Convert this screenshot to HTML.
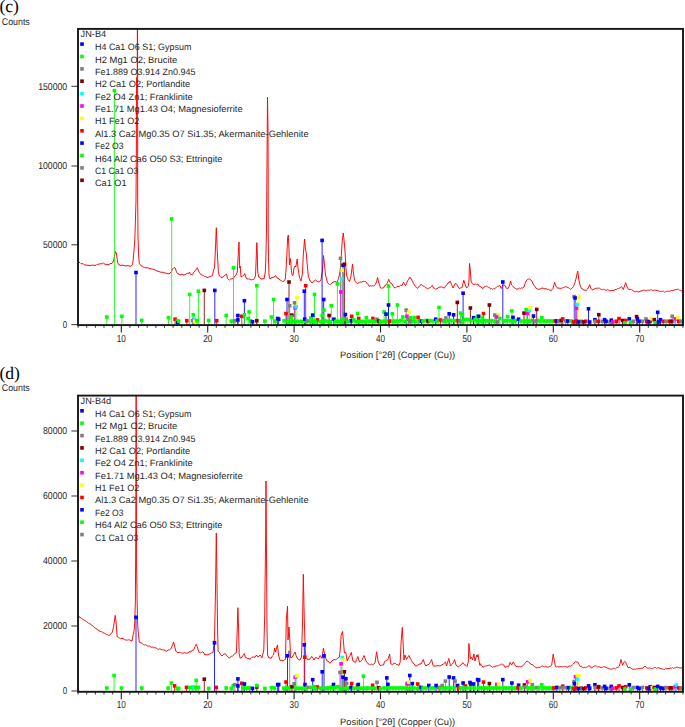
<!DOCTYPE html>
<html><head><meta charset="utf-8"><style>html,body{margin:0;padding:0;background:#fff;overflow:hidden}svg{display:block;text-rendering:geometricPrecision}</style></head>
<body>
<svg width="685" height="727" viewBox="0 0 685 727">
<rect width="685" height="727" fill="#fff"/>
<g transform="translate(0,0.00)">
<text x="-0.6" y="11.8" font-family="Liberation Serif, serif" font-size="17.6" fill="#000">(c)</text>
<text x="1.8" y="24.8" font-family="Liberation Sans, sans-serif" font-size="9.7" fill="#262626" textLength="28" lengthAdjust="spacingAndGlyphs">Counts</text>
<line x1="71.4" y1="86.3" x2="78" y2="86.3" stroke="#444" stroke-width="1.1"/>
<text x="38.2" y="89.7" font-family="Liberation Sans, sans-serif" font-size="10.0" fill="#262626" textLength="29.0" lengthAdjust="spacingAndGlyphs">150000</text>
<line x1="71.4" y1="166.0" x2="78" y2="166.0" stroke="#444" stroke-width="1.1"/>
<text x="38.2" y="169.4" font-family="Liberation Sans, sans-serif" font-size="10.0" fill="#262626" textLength="29.0" lengthAdjust="spacingAndGlyphs">100000</text>
<line x1="71.4" y1="244.8" x2="78" y2="244.8" stroke="#444" stroke-width="1.1"/>
<text x="43.0" y="248.2" font-family="Liberation Sans, sans-serif" font-size="10.0" fill="#262626" textLength="24.2" lengthAdjust="spacingAndGlyphs">50000</text>
<line x1="71.4" y1="324.6" x2="78" y2="324.6" stroke="#444" stroke-width="1.1"/>
<text x="62.8" y="328.0" font-family="Liberation Sans, sans-serif" font-size="10.0" fill="#262626" textLength="4.4" lengthAdjust="spacingAndGlyphs">0</text>
<line x1="78.1" y1="325.5" x2="78.1" y2="327.8" stroke="#333" stroke-width="1"/>
<line x1="86.7" y1="325.5" x2="86.7" y2="327.8" stroke="#333" stroke-width="1"/>
<line x1="95.4" y1="325.5" x2="95.4" y2="327.8" stroke="#333" stroke-width="1"/>
<line x1="104.0" y1="325.5" x2="104.0" y2="327.8" stroke="#333" stroke-width="1"/>
<line x1="112.7" y1="325.5" x2="112.7" y2="327.8" stroke="#333" stroke-width="1"/>
<line x1="121.3" y1="325.5" x2="121.3" y2="332.6" stroke="#222" stroke-width="1.1"/>
<text x="116.8" y="341.6" font-family="Liberation Sans, sans-serif" font-size="10.2" fill="#262626" textLength="9.1" lengthAdjust="spacingAndGlyphs">10</text>
<line x1="129.9" y1="325.5" x2="129.9" y2="327.8" stroke="#333" stroke-width="1"/>
<line x1="138.6" y1="325.5" x2="138.6" y2="327.8" stroke="#333" stroke-width="1"/>
<line x1="147.2" y1="325.5" x2="147.2" y2="327.8" stroke="#333" stroke-width="1"/>
<line x1="155.9" y1="325.5" x2="155.9" y2="327.8" stroke="#333" stroke-width="1"/>
<line x1="164.5" y1="325.5" x2="164.5" y2="327.8" stroke="#333" stroke-width="1"/>
<line x1="173.1" y1="325.5" x2="173.1" y2="327.8" stroke="#333" stroke-width="1"/>
<line x1="181.8" y1="325.5" x2="181.8" y2="327.8" stroke="#333" stroke-width="1"/>
<line x1="190.4" y1="325.5" x2="190.4" y2="327.8" stroke="#333" stroke-width="1"/>
<line x1="199.1" y1="325.5" x2="199.1" y2="327.8" stroke="#333" stroke-width="1"/>
<line x1="207.7" y1="325.5" x2="207.7" y2="332.6" stroke="#222" stroke-width="1.1"/>
<text x="203.2" y="341.6" font-family="Liberation Sans, sans-serif" font-size="10.2" fill="#262626" textLength="9.1" lengthAdjust="spacingAndGlyphs">20</text>
<line x1="216.3" y1="325.5" x2="216.3" y2="327.8" stroke="#333" stroke-width="1"/>
<line x1="225.0" y1="325.5" x2="225.0" y2="327.8" stroke="#333" stroke-width="1"/>
<line x1="233.6" y1="325.5" x2="233.6" y2="327.8" stroke="#333" stroke-width="1"/>
<line x1="242.3" y1="325.5" x2="242.3" y2="327.8" stroke="#333" stroke-width="1"/>
<line x1="250.9" y1="325.5" x2="250.9" y2="327.8" stroke="#333" stroke-width="1"/>
<line x1="259.5" y1="325.5" x2="259.5" y2="327.8" stroke="#333" stroke-width="1"/>
<line x1="268.2" y1="325.5" x2="268.2" y2="327.8" stroke="#333" stroke-width="1"/>
<line x1="276.8" y1="325.5" x2="276.8" y2="327.8" stroke="#333" stroke-width="1"/>
<line x1="285.5" y1="325.5" x2="285.5" y2="327.8" stroke="#333" stroke-width="1"/>
<line x1="294.1" y1="325.5" x2="294.1" y2="332.6" stroke="#222" stroke-width="1.1"/>
<text x="289.6" y="341.6" font-family="Liberation Sans, sans-serif" font-size="10.2" fill="#262626" textLength="9.1" lengthAdjust="spacingAndGlyphs">30</text>
<line x1="302.7" y1="325.5" x2="302.7" y2="327.8" stroke="#333" stroke-width="1"/>
<line x1="311.4" y1="325.5" x2="311.4" y2="327.8" stroke="#333" stroke-width="1"/>
<line x1="320.0" y1="325.5" x2="320.0" y2="327.8" stroke="#333" stroke-width="1"/>
<line x1="328.7" y1="325.5" x2="328.7" y2="327.8" stroke="#333" stroke-width="1"/>
<line x1="337.3" y1="325.5" x2="337.3" y2="327.8" stroke="#333" stroke-width="1"/>
<line x1="345.9" y1="325.5" x2="345.9" y2="327.8" stroke="#333" stroke-width="1"/>
<line x1="354.6" y1="325.5" x2="354.6" y2="327.8" stroke="#333" stroke-width="1"/>
<line x1="363.2" y1="325.5" x2="363.2" y2="327.8" stroke="#333" stroke-width="1"/>
<line x1="371.9" y1="325.5" x2="371.9" y2="327.8" stroke="#333" stroke-width="1"/>
<line x1="380.5" y1="325.5" x2="380.5" y2="332.6" stroke="#222" stroke-width="1.1"/>
<text x="376.0" y="341.6" font-family="Liberation Sans, sans-serif" font-size="10.2" fill="#262626" textLength="9.1" lengthAdjust="spacingAndGlyphs">40</text>
<line x1="389.1" y1="325.5" x2="389.1" y2="327.8" stroke="#333" stroke-width="1"/>
<line x1="397.8" y1="325.5" x2="397.8" y2="327.8" stroke="#333" stroke-width="1"/>
<line x1="406.4" y1="325.5" x2="406.4" y2="327.8" stroke="#333" stroke-width="1"/>
<line x1="415.1" y1="325.5" x2="415.1" y2="327.8" stroke="#333" stroke-width="1"/>
<line x1="423.7" y1="325.5" x2="423.7" y2="327.8" stroke="#333" stroke-width="1"/>
<line x1="432.3" y1="325.5" x2="432.3" y2="327.8" stroke="#333" stroke-width="1"/>
<line x1="441.0" y1="325.5" x2="441.0" y2="327.8" stroke="#333" stroke-width="1"/>
<line x1="449.6" y1="325.5" x2="449.6" y2="327.8" stroke="#333" stroke-width="1"/>
<line x1="458.3" y1="325.5" x2="458.3" y2="327.8" stroke="#333" stroke-width="1"/>
<line x1="466.9" y1="325.5" x2="466.9" y2="332.6" stroke="#222" stroke-width="1.1"/>
<text x="462.4" y="341.6" font-family="Liberation Sans, sans-serif" font-size="10.2" fill="#262626" textLength="9.1" lengthAdjust="spacingAndGlyphs">50</text>
<line x1="475.5" y1="325.5" x2="475.5" y2="327.8" stroke="#333" stroke-width="1"/>
<line x1="484.2" y1="325.5" x2="484.2" y2="327.8" stroke="#333" stroke-width="1"/>
<line x1="492.8" y1="325.5" x2="492.8" y2="327.8" stroke="#333" stroke-width="1"/>
<line x1="501.5" y1="325.5" x2="501.5" y2="327.8" stroke="#333" stroke-width="1"/>
<line x1="510.1" y1="325.5" x2="510.1" y2="327.8" stroke="#333" stroke-width="1"/>
<line x1="518.7" y1="325.5" x2="518.7" y2="327.8" stroke="#333" stroke-width="1"/>
<line x1="527.4" y1="325.5" x2="527.4" y2="327.8" stroke="#333" stroke-width="1"/>
<line x1="536.0" y1="325.5" x2="536.0" y2="327.8" stroke="#333" stroke-width="1"/>
<line x1="544.7" y1="325.5" x2="544.7" y2="327.8" stroke="#333" stroke-width="1"/>
<line x1="553.3" y1="325.5" x2="553.3" y2="332.6" stroke="#222" stroke-width="1.1"/>
<text x="548.8" y="341.6" font-family="Liberation Sans, sans-serif" font-size="10.2" fill="#262626" textLength="9.1" lengthAdjust="spacingAndGlyphs">60</text>
<line x1="561.9" y1="325.5" x2="561.9" y2="327.8" stroke="#333" stroke-width="1"/>
<line x1="570.6" y1="325.5" x2="570.6" y2="327.8" stroke="#333" stroke-width="1"/>
<line x1="579.2" y1="325.5" x2="579.2" y2="327.8" stroke="#333" stroke-width="1"/>
<line x1="587.9" y1="325.5" x2="587.9" y2="327.8" stroke="#333" stroke-width="1"/>
<line x1="596.5" y1="325.5" x2="596.5" y2="327.8" stroke="#333" stroke-width="1"/>
<line x1="605.1" y1="325.5" x2="605.1" y2="327.8" stroke="#333" stroke-width="1"/>
<line x1="613.8" y1="325.5" x2="613.8" y2="327.8" stroke="#333" stroke-width="1"/>
<line x1="622.4" y1="325.5" x2="622.4" y2="327.8" stroke="#333" stroke-width="1"/>
<line x1="631.1" y1="325.5" x2="631.1" y2="327.8" stroke="#333" stroke-width="1"/>
<line x1="639.7" y1="325.5" x2="639.7" y2="332.6" stroke="#222" stroke-width="1.1"/>
<text x="635.2" y="341.6" font-family="Liberation Sans, sans-serif" font-size="10.2" fill="#262626" textLength="9.1" lengthAdjust="spacingAndGlyphs">70</text>
<line x1="648.3" y1="325.5" x2="648.3" y2="327.8" stroke="#333" stroke-width="1"/>
<line x1="657.0" y1="325.5" x2="657.0" y2="327.8" stroke="#333" stroke-width="1"/>
<line x1="665.6" y1="325.5" x2="665.6" y2="327.8" stroke="#333" stroke-width="1"/>
<line x1="674.3" y1="325.5" x2="674.3" y2="327.8" stroke="#333" stroke-width="1"/>
<line x1="682.9" y1="325.5" x2="682.9" y2="327.8" stroke="#333" stroke-width="1"/>
<text x="340.1" y="358.3" font-family="Liberation Sans, sans-serif" font-size="9.2" fill="#262626" textLength="115" lengthAdjust="spacingAndGlyphs">Position [°2θ] (Copper (Cu))</text>
<clipPath id="clipc"><rect x="78.5" y="28.8" width="604" height="296"/></clipPath>
<g clip-path="url(#clipc)">
<path d="M78.0 262.3 L79.0 262.4 L80.0 262.6 L81.0 263.6 L82.0 263.8 L83.0 263.6 L84.0 264.6 L85.0 264.8 L86.0 265.3 L87.0 264.9 L88.0 265.6 L89.0 265.1 L90.0 265.8 L91.0 265.6 L92.0 265.1 L93.0 265.0 L94.0 265.5 L95.0 265.2 L96.0 265.4 L97.0 264.3 L98.0 264.5 L99.0 263.8 L100.0 264.1 L101.0 263.6 L102.2 263.9 L103.5 263.0 L105.0 264.3 L106.0 264.5 L107.0 264.3 L108.0 264.5 L109.0 264.9 L110.0 263.4 L111.0 263.7 L112.0 263.3 L113.0 262.0 L114.0 259.0 L115.3 251.5 L116.3 253.0 L117.0 258.0 L117.8 263.0 L119.0 265.0 L120.0 265.0 L121.0 265.6 L122.0 265.2 L123.0 265.2 L124.0 265.5 L125.0 265.8 L126.0 266.2 L127.0 265.4 L128.0 265.9 L129.0 265.8 L130.0 266.2 L131.0 266.3 L132.5 264.5 L133.2 260.0 L134.0 250.0 L134.8 240.0 L135.5 218.0 L136.0 200.0 L136.4 150.0 L136.5 78.0 L137.3 76.0 L137.4 0.0 L137.5 0.0 L137.6 76.0 L137.7 200.0 L138.0 236.0 L138.6 255.0 L139.3 263.5 L141.0 265.8 L142.2 266.2 L143.5 267.0 L144.8 267.6 L146.0 268.0 L147.0 267.6 L148.0 267.8 L149.0 268.5 L150.0 268.3 L151.0 269.1 L152.0 269.0 L153.0 269.2 L154.0 269.4 L155.0 270.0 L156.0 270.6 L157.0 270.9 L158.0 271.5 L159.0 271.4 L160.0 272.2 L161.0 272.0 L162.0 272.5 L163.0 272.1 L164.0 272.6 L165.0 273.0 L166.0 273.2 L167.0 273.5 L168.0 273.9 L169.0 273.7 L170.0 273.3 L171.5 271.5 L172.5 269.0 L174.0 267.5 L175.2 268.0 L176.5 272.0 L178.0 274.0 L179.0 273.9 L180.0 275.0 L181.0 274.5 L182.0 274.2 L183.0 274.7 L184.0 275.0 L185.0 274.8 L186.0 274.0 L187.2 273.3 L188.5 273.5 L189.5 272.0 L190.5 274.5 L191.5 274.5 L192.5 274.5 L193.8 272.2 L195.0 271.0 L196.1 269.6 L197.2 267.7 L199.0 272.0 L200.0 273.6 L201.0 274.5 L202.2 275.1 L203.5 275.5 L204.7 276.7 L205.8 276.6 L207.0 277.5 L208.0 277.4 L209.0 277.0 L210.0 276.5 L211.2 276.2 L212.5 275.7 L213.5 270.0 L214.5 268.0 L215.4 250.0 L216.3 227.7 L217.2 250.0 L218.3 270.5 L219.0 275.0 L220.0 276.2 L221.0 277.5 L222.0 277.4 L223.0 277.1 L224.0 276.0 L225.2 275.0 L226.5 274.0 L227.5 278.5 L228.5 279.5 L229.5 280.0 L230.8 278.9 L232.0 279.0 L233.0 278.3 L234.0 277.0 L235.0 276.2 L236.0 275.0 L237.3 272.0 L238.2 255.0 L239.0 242.0 L239.7 268.0 L240.2 266.0 L241.0 277.0 L242.5 276.0 L243.7 275.4 L244.8 273.5 L246.0 278.0 L247.2 278.9 L248.5 279.0 L249.8 279.2 L251.0 280.0 L252.2 279.6 L253.5 279.5 L254.5 278.0 L255.5 276.0 L256.3 256.0 L256.8 242.6 L257.4 256.0 L257.6 270.0 L258.5 277.0 L259.8 277.4 L261.0 279.0 L262.0 279.0 L263.0 278.6 L264.0 279.0 L265.3 272.0 L265.8 260.0 L266.5 230.0 L266.9 175.0 L267.5 97.0 L268.0 130.0 L268.2 175.0 L268.2 230.0 L268.5 260.0 L269.0 275.0 L270.0 279.0 L271.0 278.0 L272.0 277.4 L273.0 277.5 L274.2 276.8 L275.5 275.5 L277.0 278.0 L278.0 278.2 L279.0 279.0 L280.0 280.0 L281.2 280.4 L282.3 281.5 L283.5 281.5 L285.3 279.0 L286.0 270.0 L287.0 252.0 L287.6 238.0 L288.3 235.0 L289.0 250.0 L289.5 265.0 L290.0 260.0 L290.5 258.5 L291.2 268.0 L292.0 275.0 L293.0 275.5 L294.0 268.0 L295.0 266.0 L295.8 267.0 L297.2 259.0 L298.0 268.0 L299.5 277.5 L301.0 281.0 L302.5 273.0 L303.2 256.0 L304.6 239.0 L305.5 250.0 L306.2 252.0 L307.0 262.0 L308.3 276.0 L310.0 281.0 L311.0 281.5 L312.0 283.0 L313.0 281.9 L314.0 281.0 L315.5 280.0 L316.5 280.8 L317.5 281.5 L319.0 282.0 L320.0 281.2 L321.0 279.5 L322.5 270.0 L323.5 255.5 L324.3 263.0 L325.5 275.0 L327.3 282.0 L328.4 283.7 L329.5 284.5 L330.8 284.2 L332.0 283.0 L333.0 282.2 L334.0 281.9 L335.0 281.5 L336.0 281.8 L337.0 282.5 L338.5 278.5 L340.0 272.0 L341.0 260.0 L342.3 240.0 L343.3 233.0 L344.0 240.0 L345.0 251.0 L345.8 266.0 L346.5 275.0 L348.0 279.5 L349.5 281.5 L351.0 276.0 L352.5 264.0 L353.3 272.0 L354.5 280.0 L355.5 281.7 L356.6 282.9 L357.6 283.5 L358.7 282.7 L359.8 282.3 L360.9 282.0 L362.0 282.0 L363.2 281.4 L364.4 281.5 L365.6 281.3 L366.8 283.1 L368.0 284.4 L369.2 286.4 L370.2 285.6 L371.3 286.0 L372.3 285.8 L373.4 285.9 L374.4 285.7 L375.4 284.4 L376.5 282.0 L377.6 277.5 L378.6 282.0 L380.5 288.0 L381.5 288.2 L382.5 288.0 L383.5 288.0 L384.8 285.5 L386.5 284.7 L387.6 282.2 L388.7 279.3 L390.0 282.6 L391.0 283.4 L392.0 283.8 L393.5 286.8 L395.4 288.1 L396.7 286.7 L398.0 286.4 L399.3 286.4 L400.6 285.3 L402.1 285.5 L403.5 282.2 L404.5 284.2 L405.5 285.5 L406.6 283.5 L407.7 280.6 L408.7 279.2 L409.7 277.0 L411.2 279.0 L412.4 281.2 L413.5 283.7 L414.5 285.1 L415.5 286.8 L416.5 287.1 L417.5 288.5 L418.6 287.2 L419.8 285.5 L421.2 284.3 L423.0 286.0 L424.2 286.3 L425.5 287.7 L426.5 287.8 L427.5 289.0 L428.5 288.2 L429.5 288.2 L430.5 287.0 L432.3 285.3 L433.5 288.1 L434.5 288.3 L435.5 289.3 L436.8 288.5 L438.0 288.1 L439.0 287.1 L440.0 287.2 L441.1 286.8 L442.2 287.2 L443.3 287.4 L444.4 288.1 L445.7 286.2 L447.0 284.6 L448.1 282.8 L449.1 282.8 L450.2 281.1 L451.6 284.7 L453.1 288.0 L454.4 285.1 L455.6 283.1 L456.8 284.6 L458.0 286.5 L459.2 288.5 L460.6 287.9 L462.0 287.7 L463.8 280.2 L465.2 284.9 L466.6 288.1 L468.4 285.8 L469.0 280.0 L469.5 263.5 L470.3 270.1 L471.0 281.0 L472.2 283.6 L474.0 284.6 L475.3 283.9 L476.5 284.7 L477.8 284.0 L478.9 285.9 L480.0 286.5 L481.0 287.1 L482.0 287.8 L483.0 288.5 L484.2 286.9 L485.5 286.3 L486.5 286.1 L487.5 286.8 L488.5 287.4 L489.5 287.6 L490.5 288.9 L491.5 288.5 L492.5 289.5 L493.5 288.3 L494.5 288.9 L495.5 287.8 L496.5 287.2 L497.7 286.2 L498.8 286.1 L500.0 285.5 L501.3 288.5 L502.4 286.0 L503.5 284.7 L505.0 285.5 L506.6 288.5 L508.5 288.1 L509.8 284.0 L510.7 281.1 L511.5 285.0 L513.0 286.4 L514.0 287.3 L515.0 288.1 L516.0 289.2 L517.0 289.0 L518.2 289.0 L519.5 288.1 L520.5 288.4 L521.6 287.8 L522.6 288.1 L524.0 287.0 L525.5 282.2 L527.2 279.5 L528.4 279.1 L529.5 279.0 L531.0 280.0 L532.0 281.4 L533.0 283.6 L534.0 285.4 L535.0 286.5 L536.6 289.0 L537.7 289.0 L538.9 289.4 L540.0 289.0 L541.0 288.5 L542.0 288.0 L543.0 288.1 L544.0 288.6 L545.0 289.0 L546.0 288.5 L547.2 289.4 L548.5 289.3 L549.8 290.2 L551.0 290.3 L552.0 289.8 L553.0 288.5 L554.2 284.0 L554.7 282.4 L555.6 285.5 L557.0 287.7 L558.0 288.3 L559.0 287.9 L560.0 288.5 L561.4 288.2 L562.7 287.9 L563.8 287.5 L564.9 286.9 L565.9 286.7 L567.0 287.1 L568.2 287.6 L569.4 288.3 L570.6 289.4 L572.0 288.2 L573.5 286.5 L575.0 282.4 L576.2 278.0 L577.3 272.5 L577.7 271.0 L578.1 273.0 L578.5 278.0 L580.0 285.0 L581.0 287.6 L582.0 289.0 L583.0 289.3 L584.0 290.2 L585.0 290.0 L586.2 290.3 L587.4 289.3 L588.6 287.0 L589.7 284.6 L590.6 288.0 L592.0 289.7 L593.0 290.0 L594.1 289.0 L595.1 288.6 L596.2 288.3 L597.2 288.1 L598.3 288.2 L599.3 288.1 L600.4 288.9 L601.5 289.5 L602.5 289.6 L603.5 289.4 L604.6 289.7 L605.6 290.0 L606.7 290.3 L607.7 289.4 L608.8 290.3 L609.8 290.7 L610.9 290.6 L611.9 290.6 L613.0 290.4 L614.0 290.5 L615.1 289.5 L616.2 289.8 L617.3 288.6 L618.4 288.7 L619.5 288.3 L620.6 287.0 L621.7 286.6 L623.3 289.5 L624.5 286.0 L625.7 282.7 L626.9 286.4 L628.0 288.9 L629.1 289.6 L630.2 289.3 L631.3 289.6 L632.5 290.0 L633.6 291.4 L634.7 291.7 L635.8 291.7 L636.8 291.1 L637.9 291.9 L638.9 291.9 L640.0 291.4 L641.0 290.8 L642.1 291.0 L643.1 290.3 L644.2 290.0 L645.2 290.5 L646.2 291.0 L647.3 290.4 L648.3 290.1 L649.3 290.5 L650.4 289.7 L651.4 289.7 L652.5 290.4 L653.7 290.6 L654.8 290.0 L655.9 290.3 L657.0 290.6 L658.2 290.7 L659.3 291.3 L660.3 291.5 L661.4 291.1 L662.4 291.4 L663.4 291.1 L664.5 292.2 L665.5 291.7 L666.5 291.3 L667.6 291.2 L668.6 291.2 L669.7 291.4 L670.8 290.6 L671.8 290.5 L672.9 290.8 L674.0 290.0 L675.0 289.8 L676.1 289.6 L677.2 289.3 L678.4 289.2 L679.6 290.2 L680.8 290.4 L682.0 291.3" fill="none" stroke="#ff0000" stroke-width="0.95" stroke-linejoin="round"/>
<g stroke-width="0.85"><line x1="106.8" y1="317.0" x2="106.8" y2="325.0" stroke="#00ff00"/>
<line x1="114.4" y1="90.7" x2="114.4" y2="325.0" stroke="#00ff00"/>
<line x1="121.9" y1="316.3" x2="121.9" y2="325.0" stroke="#00ff00"/>
<line x1="136.0" y1="272.5" x2="136.0" y2="325.0" stroke="#0000ff"/>
<line x1="141.8" y1="320.4" x2="141.8" y2="325.0" stroke="#00ff00"/>
<line x1="168.5" y1="317.7" x2="168.5" y2="325.0" stroke="#00ff00"/>
<line x1="171.7" y1="218.9" x2="171.7" y2="325.0" stroke="#00ff00"/>
<line x1="175.1" y1="319.2" x2="175.1" y2="325.0" stroke="#ff0000"/>
<line x1="177.3" y1="321.1" x2="177.3" y2="325.0" stroke="#00ff00"/>
<line x1="178.7" y1="321.1" x2="178.7" y2="325.0" stroke="#00ff00"/>
<line x1="186.8" y1="320.7" x2="186.8" y2="325.0" stroke="#ff0000"/>
<line x1="189.7" y1="294.4" x2="189.7" y2="325.0" stroke="#00ff00"/>
<line x1="193.3" y1="314.8" x2="193.3" y2="325.0" stroke="#00ff00"/>
<line x1="192.6" y1="320.7" x2="192.6" y2="325.0" stroke="#808080"/>
<line x1="193.8" y1="319.5" x2="193.8" y2="325.0" stroke="#ff00ff"/>
<line x1="194.3" y1="319.7" x2="194.3" y2="325.0" stroke="#00ffff"/>
<line x1="194.8" y1="321.4" x2="194.8" y2="325.0" stroke="#ffff00"/>
<line x1="197.0" y1="320.7" x2="197.0" y2="325.0" stroke="#00ff00"/>
<line x1="198.4" y1="291.2" x2="198.4" y2="325.0" stroke="#00ff00"/>
<line x1="204.3" y1="290.4" x2="204.3" y2="325.0" stroke="#800000"/>
<line x1="208.7" y1="320.4" x2="208.7" y2="325.0" stroke="#00ff00"/>
<line x1="214.8" y1="290.4" x2="214.8" y2="325.0" stroke="#0000ff"/>
<line x1="216.7" y1="320.7" x2="216.7" y2="325.0" stroke="#ff0000"/>
<line x1="226.2" y1="315.5" x2="226.2" y2="325.0" stroke="#00ff00"/>
<line x1="231.3" y1="321.1" x2="231.3" y2="325.0" stroke="#00ff00"/>
<line x1="233.5" y1="267.9" x2="233.5" y2="325.0" stroke="#00ff00"/>
<line x1="234.9" y1="320.7" x2="234.9" y2="325.0" stroke="#808080"/>
<line x1="237.9" y1="315.5" x2="237.9" y2="325.0" stroke="#0000ff"/>
<line x1="237.9" y1="319.9" x2="237.9" y2="325.0" stroke="#0000ff"/>
<line x1="241.8" y1="316.3" x2="241.8" y2="325.0" stroke="#ff0000"/>
<line x1="244.4" y1="300.7" x2="244.4" y2="325.0" stroke="#0000ff"/>
<line x1="244.4" y1="314.8" x2="244.4" y2="325.0" stroke="#00ff00"/>
<line x1="249.1" y1="311.9" x2="249.1" y2="325.0" stroke="#00ff00"/>
<line x1="248.1" y1="318.5" x2="248.1" y2="325.0" stroke="#00ff00"/>
<line x1="250.6" y1="320.7" x2="250.6" y2="325.0" stroke="#00ff00"/>
<line x1="252.5" y1="321.8" x2="252.5" y2="325.0" stroke="#0000ff"/>
<line x1="256.8" y1="285.7" x2="256.8" y2="325.0" stroke="#00ff00"/>
<line x1="256.8" y1="320.7" x2="256.8" y2="325.0" stroke="#800000"/>
<line x1="264.9" y1="321.1" x2="264.9" y2="325.0" stroke="#00ff00"/>
<line x1="271.4" y1="317.0" x2="271.4" y2="325.0" stroke="#00ff00"/>
<line x1="273.6" y1="299.5" x2="273.6" y2="325.0" stroke="#00ff00"/>
<line x1="275.1" y1="321.1" x2="275.1" y2="325.0" stroke="#00ff00"/>
<line x1="277.7" y1="318.5" x2="277.7" y2="325.0" stroke="#0000ff"/>
<line x1="278.7" y1="319.2" x2="278.7" y2="325.0" stroke="#0000ff"/>
<line x1="284.1" y1="320.7" x2="284.1" y2="325.0" stroke="#00ff00"/>
<line x1="286.0" y1="313.6" x2="286.0" y2="325.0" stroke="#ff0000"/>
<line x1="287.0" y1="299.5" x2="287.0" y2="325.0" stroke="#0000ff"/>
<line x1="289.0" y1="282.0" x2="289.0" y2="325.0" stroke="#800000"/>
<line x1="289.7" y1="305.8" x2="289.7" y2="325.0" stroke="#808080"/>
<line x1="291.9" y1="315.1" x2="291.9" y2="325.0" stroke="#800000"/>
<line x1="291.1" y1="317.0" x2="291.1" y2="325.0" stroke="#00ff00"/>
<line x1="291.1" y1="321.0" x2="291.1" y2="325.0" stroke="#00ff00"/>
<line x1="294.5" y1="302.8" x2="294.5" y2="325.0" stroke="#808080"/>
<line x1="295.1" y1="307.8" x2="295.1" y2="325.0" stroke="#ff00ff"/>
<line x1="296.2" y1="306.8" x2="296.2" y2="325.0" stroke="#00ffff"/>
<line x1="297.0" y1="297.7" x2="297.0" y2="325.0" stroke="#ffff00"/>
<line x1="296.0" y1="321.4" x2="296.0" y2="325.0" stroke="#00ff00"/>
<line x1="299.0" y1="321.4" x2="299.0" y2="325.0" stroke="#00ff00"/>
<line x1="302.0" y1="321.4" x2="302.0" y2="325.0" stroke="#00ff00"/>
<line x1="305.5" y1="321.4" x2="305.5" y2="325.0" stroke="#00ff00"/>
<line x1="304.3" y1="291.2" x2="304.3" y2="325.0" stroke="#0000ff"/>
<line x1="305.7" y1="285.7" x2="305.7" y2="325.0" stroke="#ff0000"/>
<line x1="304.7" y1="319.2" x2="304.7" y2="325.0" stroke="#0000ff"/>
<line x1="307.2" y1="321.0" x2="307.2" y2="325.0" stroke="#808080"/>
<line x1="310.8" y1="318.0" x2="310.8" y2="325.0" stroke="#00ff00"/>
<line x1="312.7" y1="315.1" x2="312.7" y2="325.0" stroke="#0000ff"/>
<line x1="313.0" y1="321.0" x2="313.0" y2="325.0" stroke="#00ff00"/>
<line x1="314.5" y1="294.4" x2="314.5" y2="325.0" stroke="#00ff00"/>
<line x1="317.4" y1="319.9" x2="317.4" y2="325.0" stroke="#ff0000"/>
<line x1="320.3" y1="321.4" x2="320.3" y2="325.0" stroke="#00ff00"/>
<line x1="322.2" y1="315.5" x2="322.2" y2="325.0" stroke="#00ff00"/>
<line x1="322.1" y1="240.4" x2="322.1" y2="325.0" stroke="#0000ff"/>
<line x1="323.7" y1="299.5" x2="323.7" y2="325.0" stroke="#0000ff"/>
<line x1="324.0" y1="310.1" x2="324.0" y2="325.0" stroke="#00ff00"/>
<line x1="324.7" y1="320.7" x2="324.7" y2="325.0" stroke="#00ff00"/>
<line x1="329.1" y1="315.5" x2="329.1" y2="325.0" stroke="#800000"/>
<line x1="331.3" y1="305.8" x2="331.3" y2="325.0" stroke="#00ff00"/>
<line x1="333.9" y1="319.2" x2="333.9" y2="325.0" stroke="#0000ff"/>
<line x1="335.7" y1="321.4" x2="335.7" y2="325.0" stroke="#00ff00"/>
<line x1="337.4" y1="283.9" x2="337.4" y2="325.0" stroke="#00ff00"/>
<line x1="340.5" y1="258.4" x2="340.5" y2="325.0" stroke="#808080"/>
<line x1="340.8" y1="291.9" x2="340.8" y2="325.0" stroke="#ff00ff"/>
<line x1="341.5" y1="278.8" x2="341.5" y2="325.0" stroke="#00ffff"/>
<line x1="342.2" y1="270.3" x2="342.2" y2="325.0" stroke="#ffff00"/>
<line x1="343.0" y1="265.2" x2="343.0" y2="325.0" stroke="#0000ff"/>
<line x1="344.4" y1="264.2" x2="344.4" y2="325.0" stroke="#800000"/>
<line x1="342.2" y1="319.2" x2="342.2" y2="325.0" stroke="#00ff00"/>
<line x1="343.7" y1="319.2" x2="343.7" y2="325.0" stroke="#00ff00"/>
<line x1="345.4" y1="314.5" x2="345.4" y2="325.0" stroke="#0000ff"/>
<line x1="346.3" y1="319.2" x2="346.3" y2="325.0" stroke="#808080"/>
<line x1="351.7" y1="316.3" x2="351.7" y2="325.0" stroke="#ff0000"/>
<line x1="351.0" y1="320.7" x2="351.0" y2="325.0" stroke="#0000ff"/>
<line x1="353.9" y1="319.9" x2="353.9" y2="325.0" stroke="#00ff00"/>
<line x1="357.6" y1="313.4" x2="357.6" y2="325.0" stroke="#00ff00"/>
<line x1="358.7" y1="318.5" x2="358.7" y2="325.0" stroke="#ff0000"/>
<line x1="356.0" y1="321.4" x2="356.0" y2="325.0" stroke="#00ff00"/>
<line x1="359.5" y1="321.4" x2="359.5" y2="325.0" stroke="#00ff00"/>
<line x1="362.5" y1="321.4" x2="362.5" y2="325.0" stroke="#00ff00"/>
<line x1="366.3" y1="317.7" x2="366.3" y2="325.0" stroke="#00ff00"/>
<line x1="369.0" y1="321.2" x2="369.0" y2="325.0" stroke="#00ff00"/>
<line x1="372.9" y1="318.5" x2="372.9" y2="325.0" stroke="#ff0000"/>
<line x1="372.0" y1="321.2" x2="372.0" y2="325.0" stroke="#00ff00"/>
<line x1="375.0" y1="321.2" x2="375.0" y2="325.0" stroke="#00ff00"/>
<line x1="377.0" y1="319.2" x2="377.0" y2="325.0" stroke="#808080"/>
<line x1="378.7" y1="321.1" x2="378.7" y2="325.0" stroke="#800000"/>
<line x1="384.1" y1="311.9" x2="384.1" y2="325.0" stroke="#00ff00"/>
<line x1="386.0" y1="314.1" x2="386.0" y2="325.0" stroke="#0000ff"/>
<line x1="385.3" y1="321.1" x2="385.3" y2="325.0" stroke="#00ff00"/>
<line x1="388.9" y1="321.1" x2="388.9" y2="325.0" stroke="#00ff00"/>
<line x1="389.6" y1="321.1" x2="389.6" y2="325.0" stroke="#ff0000"/>
<line x1="388.5" y1="286.1" x2="388.5" y2="325.0" stroke="#00ff00"/>
<line x1="388.5" y1="305.0" x2="388.5" y2="325.0" stroke="#0000ff"/>
<line x1="392.3" y1="313.8" x2="392.3" y2="325.0" stroke="#00ff00"/>
<line x1="397.4" y1="305.0" x2="397.4" y2="325.0" stroke="#00ff00"/>
<line x1="395.0" y1="321.1" x2="395.0" y2="325.0" stroke="#00ff00"/>
<line x1="398.0" y1="321.1" x2="398.0" y2="325.0" stroke="#00ff00"/>
<line x1="401.0" y1="320.5" x2="401.0" y2="325.0" stroke="#00ff00"/>
<line x1="402.8" y1="317.0" x2="402.8" y2="325.0" stroke="#00ff00"/>
<line x1="406.2" y1="310.1" x2="406.2" y2="325.0" stroke="#808080"/>
<line x1="409.0" y1="311.9" x2="409.0" y2="325.0" stroke="#ffff00"/>
<line x1="406.9" y1="316.3" x2="406.9" y2="325.0" stroke="#ff00ff"/>
<line x1="408.4" y1="319.2" x2="408.4" y2="325.0" stroke="#808080"/>
<line x1="410.8" y1="317.7" x2="410.8" y2="325.0" stroke="#00ff00"/>
<line x1="414.5" y1="317.7" x2="414.5" y2="325.0" stroke="#00ff00"/>
<line x1="412.0" y1="321.0" x2="412.0" y2="325.0" stroke="#00ff00"/>
<line x1="418.1" y1="317.4" x2="418.1" y2="325.0" stroke="#ff0000"/>
<line x1="419.0" y1="321.0" x2="419.0" y2="325.0" stroke="#00ff00"/>
<line x1="421.5" y1="321.0" x2="421.5" y2="325.0" stroke="#0000ff"/>
<line x1="423.0" y1="321.0" x2="423.0" y2="325.0" stroke="#00ff00"/>
<line x1="426.0" y1="320.5" x2="426.0" y2="325.0" stroke="#00ff00"/>
<line x1="428.0" y1="321.0" x2="428.0" y2="325.0" stroke="#800000"/>
<line x1="430.0" y1="320.5" x2="430.0" y2="325.0" stroke="#00ff00"/>
<line x1="433.0" y1="321.0" x2="433.0" y2="325.0" stroke="#00ff00"/>
<line x1="435.7" y1="319.2" x2="435.7" y2="325.0" stroke="#0000ff"/>
<line x1="437.0" y1="321.0" x2="437.0" y2="325.0" stroke="#00ff00"/>
<line x1="439.0" y1="307.5" x2="439.0" y2="325.0" stroke="#00ff00"/>
<line x1="440.5" y1="320.0" x2="440.5" y2="325.0" stroke="#ff0000"/>
<line x1="443.0" y1="320.7" x2="443.0" y2="325.0" stroke="#808080"/>
<line x1="445.9" y1="318.0" x2="445.9" y2="325.0" stroke="#808080"/>
<line x1="448.0" y1="320.7" x2="448.0" y2="325.0" stroke="#00ff00"/>
<line x1="449.2" y1="313.8" x2="449.2" y2="325.0" stroke="#0000ff"/>
<line x1="451.0" y1="320.5" x2="451.0" y2="325.0" stroke="#00ff00"/>
<line x1="453.6" y1="314.8" x2="453.6" y2="325.0" stroke="#0000ff"/>
<line x1="454.5" y1="320.7" x2="454.5" y2="325.0" stroke="#00ff00"/>
<line x1="457.3" y1="302.4" x2="457.3" y2="325.0" stroke="#800000"/>
<line x1="458.0" y1="320.7" x2="458.0" y2="325.0" stroke="#ff0000"/>
<line x1="460.5" y1="313.1" x2="460.5" y2="325.0" stroke="#00ff00"/>
<line x1="462.4" y1="314.8" x2="462.4" y2="325.0" stroke="#00ff00"/>
<line x1="463.1" y1="293.2" x2="463.1" y2="325.0" stroke="#0000ff"/>
<line x1="465.0" y1="319.5" x2="465.0" y2="325.0" stroke="#00ff00"/>
<line x1="468.0" y1="319.5" x2="468.0" y2="325.0" stroke="#00ff00"/>
<line x1="470.4" y1="308.0" x2="470.4" y2="325.0" stroke="#800000"/>
<line x1="471.0" y1="320.5" x2="471.0" y2="325.0" stroke="#00ff00"/>
<line x1="473.6" y1="317.7" x2="473.6" y2="325.0" stroke="#0000ff"/>
<line x1="475.0" y1="319.5" x2="475.0" y2="325.0" stroke="#00ff00"/>
<line x1="477.5" y1="316.5" x2="477.5" y2="325.0" stroke="#00ff00"/>
<line x1="478.7" y1="316.3" x2="478.7" y2="325.0" stroke="#0000ff"/>
<line x1="483.5" y1="313.6" x2="483.5" y2="325.0" stroke="#ff0000"/>
<line x1="482.4" y1="317.7" x2="482.4" y2="325.0" stroke="#00ff00"/>
<line x1="480.0" y1="320.7" x2="480.0" y2="325.0" stroke="#00ff00"/>
<line x1="485.5" y1="320.7" x2="485.5" y2="325.0" stroke="#00ff00"/>
<line x1="488.5" y1="320.7" x2="488.5" y2="325.0" stroke="#00ff00"/>
<line x1="489.4" y1="305.0" x2="489.4" y2="325.0" stroke="#800000"/>
<line x1="491.5" y1="320.7" x2="491.5" y2="325.0" stroke="#00ff00"/>
<line x1="494.8" y1="315.1" x2="494.8" y2="325.0" stroke="#808080"/>
<line x1="498.7" y1="314.5" x2="498.7" y2="325.0" stroke="#ffff00"/>
<line x1="496.7" y1="317.0" x2="496.7" y2="325.0" stroke="#ff00ff"/>
<line x1="499.9" y1="318.5" x2="499.9" y2="325.0" stroke="#00ff00"/>
<line x1="502.8" y1="282.0" x2="502.8" y2="325.0" stroke="#0000ff"/>
<line x1="503.5" y1="320.7" x2="503.5" y2="325.0" stroke="#00ff00"/>
<line x1="506.0" y1="320.7" x2="506.0" y2="325.0" stroke="#00ff00"/>
<line x1="511.9" y1="310.9" x2="511.9" y2="325.0" stroke="#00ff00"/>
<line x1="507.6" y1="316.6" x2="507.6" y2="325.0" stroke="#00ff00"/>
<line x1="513.0" y1="317.4" x2="513.0" y2="325.0" stroke="#0000ff"/>
<line x1="510.0" y1="320.7" x2="510.0" y2="325.0" stroke="#00ff00"/>
<line x1="515.5" y1="320.7" x2="515.5" y2="325.0" stroke="#00ff00"/>
<line x1="518.6" y1="319.2" x2="518.6" y2="325.0" stroke="#0000ff"/>
<line x1="521.0" y1="321.0" x2="521.0" y2="325.0" stroke="#00ff00"/>
<line x1="524.0" y1="313.1" x2="524.0" y2="325.0" stroke="#800000"/>
<line x1="526.2" y1="309.7" x2="526.2" y2="325.0" stroke="#00ff00"/>
<line x1="527.6" y1="313.4" x2="527.6" y2="325.0" stroke="#ff00ff"/>
<line x1="529.4" y1="310.4" x2="529.4" y2="325.0" stroke="#00ffff"/>
<line x1="530.1" y1="307.8" x2="530.1" y2="325.0" stroke="#ffff00"/>
<line x1="533.5" y1="316.0" x2="533.5" y2="325.0" stroke="#0000ff"/>
<line x1="524.5" y1="321.0" x2="524.5" y2="325.0" stroke="#00ff00"/>
<line x1="528.0" y1="321.0" x2="528.0" y2="325.0" stroke="#00ff00"/>
<line x1="532.3" y1="320.4" x2="532.3" y2="325.0" stroke="#808080"/>
<line x1="536.7" y1="309.4" x2="536.7" y2="325.0" stroke="#800000"/>
<line x1="537.0" y1="320.4" x2="537.0" y2="325.0" stroke="#808080"/>
<line x1="540.0" y1="321.0" x2="540.0" y2="325.0" stroke="#00ff00"/>
<line x1="541.8" y1="317.7" x2="541.8" y2="325.0" stroke="#00ff00"/>
<line x1="544.0" y1="321.0" x2="544.0" y2="325.0" stroke="#00ff00"/>
<line x1="547.0" y1="321.0" x2="547.0" y2="325.0" stroke="#00ff00"/>
<line x1="550.0" y1="321.0" x2="550.0" y2="325.0" stroke="#00ff00"/>
<line x1="553.0" y1="321.0" x2="553.0" y2="325.0" stroke="#00ff00"/>
<line x1="555.4" y1="321.0" x2="555.4" y2="325.0" stroke="#ff0000"/>
<line x1="556.8" y1="321.0" x2="556.8" y2="325.0" stroke="#0000ff"/>
<line x1="559.0" y1="321.0" x2="559.0" y2="325.0" stroke="#808080"/>
<line x1="561.2" y1="320.4" x2="561.2" y2="325.0" stroke="#800000"/>
<line x1="562.7" y1="318.9" x2="562.7" y2="325.0" stroke="#ff0000"/>
<line x1="565.6" y1="321.0" x2="565.6" y2="325.0" stroke="#808080"/>
<line x1="567.8" y1="321.0" x2="567.8" y2="325.0" stroke="#0000ff"/>
<line x1="571.4" y1="321.0" x2="571.4" y2="325.0" stroke="#00ff00"/>
<line x1="574.1" y1="296.6" x2="574.1" y2="325.0" stroke="#808080"/>
<line x1="575.1" y1="298.0" x2="575.1" y2="325.0" stroke="#0000ff"/>
<line x1="576.5" y1="308.2" x2="576.5" y2="325.0" stroke="#ff00ff"/>
<line x1="577.3" y1="304.6" x2="577.3" y2="325.0" stroke="#00ffff"/>
<line x1="578.8" y1="297.0" x2="578.8" y2="325.0" stroke="#ffff00"/>
<line x1="576.5" y1="321.0" x2="576.5" y2="325.0" stroke="#ff0000"/>
<line x1="581.1" y1="321.3" x2="581.1" y2="325.0" stroke="#808080"/>
<line x1="585.8" y1="321.3" x2="585.8" y2="325.0" stroke="#ff0000"/>
<line x1="588.5" y1="308.8" x2="588.5" y2="325.0" stroke="#0000ff"/>
<line x1="589.7" y1="322.0" x2="589.7" y2="325.0" stroke="#0000ff"/>
<line x1="594.9" y1="319.7" x2="594.9" y2="325.0" stroke="#0000ff"/>
<line x1="595.2" y1="321.3" x2="595.2" y2="325.0" stroke="#808080"/>
<line x1="598.3" y1="321.3" x2="598.3" y2="325.0" stroke="#ff0000"/>
<line x1="598.8" y1="314.7" x2="598.8" y2="325.0" stroke="#800000"/>
<line x1="602.2" y1="321.3" x2="602.2" y2="325.0" stroke="#808080"/>
<line x1="604.6" y1="319.7" x2="604.6" y2="325.0" stroke="#0000ff"/>
<line x1="606.1" y1="321.3" x2="606.1" y2="325.0" stroke="#0000ff"/>
<line x1="610.0" y1="322.0" x2="610.0" y2="325.0" stroke="#808080"/>
<line x1="611.3" y1="320.2" x2="611.3" y2="325.0" stroke="#0000ff"/>
<line x1="612.7" y1="322.0" x2="612.7" y2="325.0" stroke="#ff00ff"/>
<line x1="616.3" y1="321.3" x2="616.3" y2="325.0" stroke="#ff0000"/>
<line x1="619.0" y1="318.6" x2="619.0" y2="325.0" stroke="#ff0000"/>
<line x1="622.5" y1="320.5" x2="622.5" y2="325.0" stroke="#800000"/>
<line x1="625.7" y1="320.5" x2="625.7" y2="325.0" stroke="#ff0000"/>
<line x1="629.3" y1="318.9" x2="629.3" y2="325.0" stroke="#0000ff"/>
<line x1="630.8" y1="322.0" x2="630.8" y2="325.0" stroke="#00ff00"/>
<line x1="633.5" y1="321.3" x2="633.5" y2="325.0" stroke="#808080"/>
<line x1="636.6" y1="316.6" x2="636.6" y2="325.0" stroke="#800000"/>
<line x1="637.4" y1="318.9" x2="637.4" y2="325.0" stroke="#0000ff"/>
<line x1="639.4" y1="321.3" x2="639.4" y2="325.0" stroke="#0000ff"/>
<line x1="642.5" y1="321.3" x2="642.5" y2="325.0" stroke="#808080"/>
<line x1="646.0" y1="318.9" x2="646.0" y2="325.0" stroke="#808080"/>
<line x1="646.8" y1="321.3" x2="646.8" y2="325.0" stroke="#ff0000"/>
<line x1="650.2" y1="321.3" x2="650.2" y2="325.0" stroke="#ff0000"/>
<line x1="651.1" y1="318.9" x2="651.1" y2="325.0" stroke="#ffff00"/>
<line x1="654.3" y1="319.7" x2="654.3" y2="325.0" stroke="#800000"/>
<line x1="657.7" y1="312.3" x2="657.7" y2="325.0" stroke="#0000ff"/>
<line x1="660.5" y1="319.7" x2="660.5" y2="325.0" stroke="#0000ff"/>
<line x1="663.2" y1="321.3" x2="663.2" y2="325.0" stroke="#ff0000"/>
<line x1="666.0" y1="321.3" x2="666.0" y2="325.0" stroke="#808080"/>
<line x1="669.4" y1="321.3" x2="669.4" y2="325.0" stroke="#ff0000"/>
<line x1="672.2" y1="316.3" x2="672.2" y2="325.0" stroke="#808080"/>
<line x1="672.8" y1="321.3" x2="672.8" y2="325.0" stroke="#808080"/>
<line x1="675.2" y1="318.9" x2="675.2" y2="325.0" stroke="#ff00ff"/>
<line x1="677.7" y1="317.8" x2="677.7" y2="325.0" stroke="#ffff00"/>
<line x1="678.8" y1="321.3" x2="678.8" y2="325.0" stroke="#ff0000"/>
<line x1="683.5" y1="321.3" x2="683.5" y2="325.0" stroke="#0000ff"/>
<line x1="288.0" y1="321.3" x2="288.0" y2="325.0" stroke="#00ff00"/>
<line x1="293.0" y1="321.3" x2="293.0" y2="325.0" stroke="#00ff00"/>
<line x1="310.5" y1="321.9" x2="310.5" y2="325.0" stroke="#00ff00"/>
<line x1="315.5" y1="321.9" x2="315.5" y2="325.0" stroke="#00ff00"/>
<line x1="323.0" y1="321.3" x2="323.0" y2="325.0" stroke="#00ff00"/>
<line x1="328.0" y1="321.3" x2="328.0" y2="325.0" stroke="#00ff00"/>
<line x1="330.5" y1="321.9" x2="330.5" y2="325.0" stroke="#00ff00"/>
<line x1="338.0" y1="321.3" x2="338.0" y2="325.0" stroke="#00ff00"/>
<line x1="340.5" y1="321.9" x2="340.5" y2="325.0" stroke="#00ff00"/>
<line x1="348.0" y1="321.3" x2="348.0" y2="325.0" stroke="#00ff00"/>
<line x1="365.5" y1="321.9" x2="365.5" y2="325.0" stroke="#00ff00"/>
<line x1="380.5" y1="321.9" x2="380.5" y2="325.0" stroke="#00ff00"/>
<line x1="383.0" y1="321.3" x2="383.0" y2="325.0" stroke="#00ff00"/>
<line x1="393.0" y1="321.3" x2="393.0" y2="325.0" stroke="#00ff00"/>
<line x1="405.0" y1="321.3" x2="405.0" y2="325.0" stroke="#00ff00"/>
<line x1="410.0" y1="321.3" x2="410.0" y2="325.0" stroke="#808080"/>
<line x1="415.0" y1="321.3" x2="415.0" y2="325.0" stroke="#00ff00"/>
<line x1="445.0" y1="321.3" x2="445.0" y2="325.0" stroke="#00ff00"/>
<line x1="460.0" y1="321.3" x2="460.0" y2="325.0" stroke="#808080"/>
<line x1="462.5" y1="321.9" x2="462.5" y2="325.0" stroke="#00ff00"/>
<line x1="477.5" y1="321.9" x2="477.5" y2="325.0" stroke="#00ff00"/>
<line x1="482.5" y1="321.9" x2="482.5" y2="325.0" stroke="#00ff00"/>
<line x1="495.0" y1="321.3" x2="495.0" y2="325.0" stroke="#00ff00"/>
<line x1="497.5" y1="321.9" x2="497.5" y2="325.0" stroke="#808080"/>
<line x1="512.5" y1="321.9" x2="512.5" y2="325.0" stroke="#00ff00"/>
<line x1="530.0" y1="321.3" x2="530.0" y2="325.0" stroke="#00ff00"/>
<line x1="535.0" y1="321.3" x2="535.0" y2="325.0" stroke="#808080"/>
<line x1="573.5" y1="321.9" x2="573.5" y2="325.0" stroke="#ff0000"/>
<line x1="578.5" y1="321.9" x2="578.5" y2="325.0" stroke="#0000ff"/>
<line x1="583.5" y1="321.9" x2="583.5" y2="325.0" stroke="#800000"/>
<line x1="648.5" y1="321.9" x2="648.5" y2="325.0" stroke="#0000ff"/>
<line x1="658.5" y1="321.9" x2="658.5" y2="325.0" stroke="#0000ff"/>
<line x1="671.0" y1="321.3" x2="671.0" y2="325.0" stroke="#800000"/>
<line x1="681.0" y1="321.3" x2="681.0" y2="325.0" stroke="#808080"/>
<rect x="105.0" y="315.2" width="3.6" height="3.6" fill="#00ff00"/>
<rect x="112.6" y="88.9" width="3.6" height="3.6" fill="#00ff00"/>
<rect x="120.1" y="314.5" width="3.6" height="3.6" fill="#00ff00"/>
<rect x="134.2" y="270.7" width="3.6" height="3.6" fill="#0000ff"/>
<rect x="140.0" y="318.6" width="3.6" height="3.6" fill="#00ff00"/>
<rect x="166.7" y="315.9" width="3.6" height="3.6" fill="#00ff00"/>
<rect x="169.9" y="217.1" width="3.6" height="3.6" fill="#00ff00"/>
<rect x="173.3" y="317.4" width="3.6" height="3.6" fill="#ff0000"/>
<rect x="175.5" y="319.3" width="3.6" height="3.6" fill="#00ff00"/>
<rect x="175.9" y="321.0" width="3.6" height="3.6" fill="#0000ff"/>
<rect x="176.9" y="319.3" width="3.6" height="3.6" fill="#00ff00"/>
<rect x="185.0" y="318.9" width="3.6" height="3.6" fill="#ff0000"/>
<rect x="187.9" y="292.6" width="3.6" height="3.6" fill="#00ff00"/>
<rect x="191.5" y="313.0" width="3.6" height="3.6" fill="#00ff00"/>
<rect x="190.8" y="318.9" width="3.6" height="3.6" fill="#808080"/>
<rect x="192.0" y="317.7" width="3.6" height="3.6" fill="#ff00ff"/>
<rect x="192.5" y="317.9" width="3.6" height="3.6" fill="#00ffff"/>
<rect x="193.0" y="319.6" width="3.6" height="3.6" fill="#ffff00"/>
<rect x="195.2" y="318.9" width="3.6" height="3.6" fill="#00ff00"/>
<rect x="196.6" y="289.4" width="3.6" height="3.6" fill="#00ff00"/>
<rect x="202.5" y="288.6" width="3.6" height="3.6" fill="#800000"/>
<rect x="206.9" y="318.6" width="3.6" height="3.6" fill="#00ff00"/>
<rect x="213.0" y="288.6" width="3.6" height="3.6" fill="#0000ff"/>
<rect x="214.9" y="318.9" width="3.6" height="3.6" fill="#ff0000"/>
<rect x="224.4" y="313.7" width="3.6" height="3.6" fill="#00ff00"/>
<rect x="229.5" y="319.3" width="3.6" height="3.6" fill="#00ff00"/>
<rect x="231.7" y="266.1" width="3.6" height="3.6" fill="#00ff00"/>
<rect x="233.1" y="318.9" width="3.6" height="3.6" fill="#808080"/>
<rect x="236.1" y="313.7" width="3.6" height="3.6" fill="#0000ff"/>
<rect x="236.1" y="318.1" width="3.6" height="3.6" fill="#0000ff"/>
<rect x="240.0" y="314.5" width="3.6" height="3.6" fill="#ff0000"/>
<rect x="242.6" y="298.9" width="3.6" height="3.6" fill="#0000ff"/>
<rect x="242.6" y="313.0" width="3.6" height="3.6" fill="#00ff00"/>
<rect x="247.3" y="310.1" width="3.6" height="3.6" fill="#00ff00"/>
<rect x="246.3" y="316.7" width="3.6" height="3.6" fill="#00ff00"/>
<rect x="248.8" y="318.9" width="3.6" height="3.6" fill="#00ff00"/>
<rect x="250.7" y="320.0" width="3.6" height="3.6" fill="#0000ff"/>
<rect x="255.0" y="283.9" width="3.6" height="3.6" fill="#00ff00"/>
<rect x="255.0" y="318.9" width="3.6" height="3.6" fill="#800000"/>
<rect x="263.1" y="319.3" width="3.6" height="3.6" fill="#00ff00"/>
<rect x="269.6" y="315.2" width="3.6" height="3.6" fill="#00ff00"/>
<rect x="271.8" y="297.7" width="3.6" height="3.6" fill="#00ff00"/>
<rect x="273.3" y="319.3" width="3.6" height="3.6" fill="#00ff00"/>
<rect x="275.9" y="316.7" width="3.6" height="3.6" fill="#0000ff"/>
<rect x="276.9" y="317.4" width="3.6" height="3.6" fill="#0000ff"/>
<rect x="282.3" y="318.9" width="3.6" height="3.6" fill="#00ff00"/>
<rect x="284.2" y="311.8" width="3.6" height="3.6" fill="#ff0000"/>
<rect x="285.2" y="297.7" width="3.6" height="3.6" fill="#0000ff"/>
<rect x="287.2" y="280.2" width="3.6" height="3.6" fill="#800000"/>
<rect x="287.9" y="304.0" width="3.6" height="3.6" fill="#808080"/>
<rect x="290.1" y="313.3" width="3.6" height="3.6" fill="#800000"/>
<rect x="289.3" y="315.2" width="3.6" height="3.6" fill="#00ff00"/>
<rect x="289.3" y="319.2" width="3.6" height="3.6" fill="#00ff00"/>
<rect x="292.7" y="301.0" width="3.6" height="3.6" fill="#808080"/>
<rect x="293.3" y="306.0" width="3.6" height="3.6" fill="#ff00ff"/>
<rect x="294.4" y="305.0" width="3.6" height="3.6" fill="#00ffff"/>
<rect x="295.2" y="295.9" width="3.6" height="3.6" fill="#ffff00"/>
<rect x="294.2" y="319.6" width="3.6" height="3.6" fill="#00ff00"/>
<rect x="297.2" y="319.6" width="3.6" height="3.6" fill="#00ff00"/>
<rect x="300.2" y="319.6" width="3.6" height="3.6" fill="#00ff00"/>
<rect x="303.7" y="319.6" width="3.6" height="3.6" fill="#00ff00"/>
<rect x="302.5" y="289.4" width="3.6" height="3.6" fill="#0000ff"/>
<rect x="303.9" y="283.9" width="3.6" height="3.6" fill="#ff0000"/>
<rect x="302.9" y="317.4" width="3.6" height="3.6" fill="#0000ff"/>
<rect x="305.4" y="319.2" width="3.6" height="3.6" fill="#808080"/>
<rect x="309.0" y="316.2" width="3.6" height="3.6" fill="#00ff00"/>
<rect x="310.9" y="313.3" width="3.6" height="3.6" fill="#0000ff"/>
<rect x="311.2" y="319.2" width="3.6" height="3.6" fill="#00ff00"/>
<rect x="312.7" y="292.6" width="3.6" height="3.6" fill="#00ff00"/>
<rect x="315.6" y="318.1" width="3.6" height="3.6" fill="#ff0000"/>
<rect x="318.5" y="319.6" width="3.6" height="3.6" fill="#00ff00"/>
<rect x="320.4" y="313.7" width="3.6" height="3.6" fill="#00ff00"/>
<rect x="320.3" y="238.6" width="3.6" height="3.6" fill="#0000ff"/>
<rect x="321.9" y="297.7" width="3.6" height="3.6" fill="#0000ff"/>
<rect x="322.2" y="308.3" width="3.6" height="3.6" fill="#00ff00"/>
<rect x="322.9" y="318.9" width="3.6" height="3.6" fill="#00ff00"/>
<rect x="327.3" y="313.7" width="3.6" height="3.6" fill="#800000"/>
<rect x="329.5" y="304.0" width="3.6" height="3.6" fill="#00ff00"/>
<rect x="332.1" y="317.4" width="3.6" height="3.6" fill="#0000ff"/>
<rect x="333.9" y="319.6" width="3.6" height="3.6" fill="#00ff00"/>
<rect x="335.6" y="282.1" width="3.6" height="3.6" fill="#00ff00"/>
<rect x="338.7" y="256.6" width="3.6" height="3.6" fill="#808080"/>
<rect x="339.0" y="290.1" width="3.6" height="3.6" fill="#ff00ff"/>
<rect x="339.7" y="277.0" width="3.6" height="3.6" fill="#00ffff"/>
<rect x="340.4" y="268.5" width="3.6" height="3.6" fill="#ffff00"/>
<rect x="341.2" y="263.4" width="3.6" height="3.6" fill="#0000ff"/>
<rect x="342.6" y="262.4" width="3.6" height="3.6" fill="#800000"/>
<rect x="340.4" y="317.4" width="3.6" height="3.6" fill="#00ff00"/>
<rect x="341.9" y="317.4" width="3.6" height="3.6" fill="#00ff00"/>
<rect x="343.6" y="312.7" width="3.6" height="3.6" fill="#0000ff"/>
<rect x="344.5" y="317.4" width="3.6" height="3.6" fill="#808080"/>
<rect x="349.9" y="314.5" width="3.6" height="3.6" fill="#ff0000"/>
<rect x="349.2" y="318.9" width="3.6" height="3.6" fill="#0000ff"/>
<rect x="352.1" y="318.1" width="3.6" height="3.6" fill="#00ff00"/>
<rect x="355.8" y="311.6" width="3.6" height="3.6" fill="#00ff00"/>
<rect x="356.9" y="316.7" width="3.6" height="3.6" fill="#ff0000"/>
<rect x="354.2" y="319.6" width="3.6" height="3.6" fill="#00ff00"/>
<rect x="357.7" y="319.6" width="3.6" height="3.6" fill="#00ff00"/>
<rect x="360.7" y="319.6" width="3.6" height="3.6" fill="#00ff00"/>
<rect x="364.5" y="315.9" width="3.6" height="3.6" fill="#00ff00"/>
<rect x="367.2" y="319.4" width="3.6" height="3.6" fill="#00ff00"/>
<rect x="371.1" y="316.7" width="3.6" height="3.6" fill="#ff0000"/>
<rect x="370.2" y="319.4" width="3.6" height="3.6" fill="#00ff00"/>
<rect x="373.2" y="319.4" width="3.6" height="3.6" fill="#00ff00"/>
<rect x="375.2" y="317.4" width="3.6" height="3.6" fill="#808080"/>
<rect x="376.9" y="319.3" width="3.6" height="3.6" fill="#800000"/>
<rect x="382.3" y="310.1" width="3.6" height="3.6" fill="#00ff00"/>
<rect x="384.2" y="312.3" width="3.6" height="3.6" fill="#0000ff"/>
<rect x="383.5" y="319.3" width="3.6" height="3.6" fill="#00ff00"/>
<rect x="387.1" y="319.3" width="3.6" height="3.6" fill="#00ff00"/>
<rect x="387.8" y="319.3" width="3.6" height="3.6" fill="#ff0000"/>
<rect x="386.7" y="284.3" width="3.6" height="3.6" fill="#00ff00"/>
<rect x="386.7" y="303.2" width="3.6" height="3.6" fill="#0000ff"/>
<rect x="390.5" y="312.0" width="3.6" height="3.6" fill="#00ff00"/>
<rect x="395.6" y="303.2" width="3.6" height="3.6" fill="#00ff00"/>
<rect x="393.2" y="319.3" width="3.6" height="3.6" fill="#00ff00"/>
<rect x="396.2" y="319.3" width="3.6" height="3.6" fill="#00ff00"/>
<rect x="399.2" y="318.7" width="3.6" height="3.6" fill="#00ff00"/>
<rect x="401.0" y="315.2" width="3.6" height="3.6" fill="#00ff00"/>
<rect x="404.4" y="308.3" width="3.6" height="3.6" fill="#808080"/>
<rect x="407.2" y="310.1" width="3.6" height="3.6" fill="#ffff00"/>
<rect x="405.1" y="314.5" width="3.6" height="3.6" fill="#ff00ff"/>
<rect x="406.6" y="317.4" width="3.6" height="3.6" fill="#808080"/>
<rect x="409.0" y="315.9" width="3.6" height="3.6" fill="#00ff00"/>
<rect x="412.7" y="315.9" width="3.6" height="3.6" fill="#00ff00"/>
<rect x="410.2" y="319.2" width="3.6" height="3.6" fill="#00ff00"/>
<rect x="416.3" y="315.6" width="3.6" height="3.6" fill="#ff0000"/>
<rect x="417.2" y="319.2" width="3.6" height="3.6" fill="#00ff00"/>
<rect x="419.7" y="319.2" width="3.6" height="3.6" fill="#0000ff"/>
<rect x="421.2" y="319.2" width="3.6" height="3.6" fill="#00ff00"/>
<rect x="424.2" y="318.7" width="3.6" height="3.6" fill="#00ff00"/>
<rect x="426.2" y="319.2" width="3.6" height="3.6" fill="#800000"/>
<rect x="428.2" y="318.7" width="3.6" height="3.6" fill="#00ff00"/>
<rect x="431.2" y="319.2" width="3.6" height="3.6" fill="#00ff00"/>
<rect x="433.9" y="317.4" width="3.6" height="3.6" fill="#0000ff"/>
<rect x="435.2" y="319.2" width="3.6" height="3.6" fill="#00ff00"/>
<rect x="437.2" y="305.7" width="3.6" height="3.6" fill="#00ff00"/>
<rect x="438.7" y="318.2" width="3.6" height="3.6" fill="#ff0000"/>
<rect x="441.2" y="318.9" width="3.6" height="3.6" fill="#808080"/>
<rect x="444.1" y="316.2" width="3.6" height="3.6" fill="#808080"/>
<rect x="446.2" y="318.9" width="3.6" height="3.6" fill="#00ff00"/>
<rect x="447.4" y="312.0" width="3.6" height="3.6" fill="#0000ff"/>
<rect x="449.2" y="318.7" width="3.6" height="3.6" fill="#00ff00"/>
<rect x="451.8" y="313.0" width="3.6" height="3.6" fill="#0000ff"/>
<rect x="452.7" y="318.9" width="3.6" height="3.6" fill="#00ff00"/>
<rect x="455.5" y="300.6" width="3.6" height="3.6" fill="#800000"/>
<rect x="456.2" y="318.9" width="3.6" height="3.6" fill="#ff0000"/>
<rect x="458.7" y="311.3" width="3.6" height="3.6" fill="#00ff00"/>
<rect x="460.6" y="313.0" width="3.6" height="3.6" fill="#00ff00"/>
<rect x="461.3" y="291.4" width="3.6" height="3.6" fill="#0000ff"/>
<rect x="463.2" y="317.7" width="3.6" height="3.6" fill="#00ff00"/>
<rect x="466.2" y="317.7" width="3.6" height="3.6" fill="#00ff00"/>
<rect x="468.6" y="306.2" width="3.6" height="3.6" fill="#800000"/>
<rect x="469.2" y="318.7" width="3.6" height="3.6" fill="#00ff00"/>
<rect x="471.8" y="315.9" width="3.6" height="3.6" fill="#0000ff"/>
<rect x="473.2" y="317.7" width="3.6" height="3.6" fill="#00ff00"/>
<rect x="475.7" y="314.7" width="3.6" height="3.6" fill="#00ff00"/>
<rect x="476.9" y="314.5" width="3.6" height="3.6" fill="#0000ff"/>
<rect x="481.7" y="311.8" width="3.6" height="3.6" fill="#ff0000"/>
<rect x="480.6" y="315.9" width="3.6" height="3.6" fill="#00ff00"/>
<rect x="478.2" y="318.9" width="3.6" height="3.6" fill="#00ff00"/>
<rect x="483.7" y="318.9" width="3.6" height="3.6" fill="#00ff00"/>
<rect x="486.7" y="318.9" width="3.6" height="3.6" fill="#00ff00"/>
<rect x="487.6" y="303.2" width="3.6" height="3.6" fill="#800000"/>
<rect x="489.7" y="318.9" width="3.6" height="3.6" fill="#00ff00"/>
<rect x="493.0" y="313.3" width="3.6" height="3.6" fill="#808080"/>
<rect x="496.9" y="312.7" width="3.6" height="3.6" fill="#ffff00"/>
<rect x="494.9" y="315.2" width="3.6" height="3.6" fill="#ff00ff"/>
<rect x="498.1" y="316.7" width="3.6" height="3.6" fill="#00ff00"/>
<rect x="501.0" y="280.2" width="3.6" height="3.6" fill="#0000ff"/>
<rect x="501.7" y="318.9" width="3.6" height="3.6" fill="#00ff00"/>
<rect x="504.2" y="318.9" width="3.6" height="3.6" fill="#00ff00"/>
<rect x="510.1" y="309.1" width="3.6" height="3.6" fill="#00ff00"/>
<rect x="505.8" y="314.8" width="3.6" height="3.6" fill="#00ff00"/>
<rect x="511.2" y="315.6" width="3.6" height="3.6" fill="#0000ff"/>
<rect x="508.2" y="318.9" width="3.6" height="3.6" fill="#00ff00"/>
<rect x="513.7" y="318.9" width="3.6" height="3.6" fill="#00ff00"/>
<rect x="516.8" y="317.4" width="3.6" height="3.6" fill="#0000ff"/>
<rect x="519.2" y="319.2" width="3.6" height="3.6" fill="#00ff00"/>
<rect x="522.2" y="311.3" width="3.6" height="3.6" fill="#800000"/>
<rect x="524.4" y="307.9" width="3.6" height="3.6" fill="#00ff00"/>
<rect x="525.8" y="311.6" width="3.6" height="3.6" fill="#ff00ff"/>
<rect x="527.6" y="308.6" width="3.6" height="3.6" fill="#00ffff"/>
<rect x="528.3" y="306.0" width="3.6" height="3.6" fill="#ffff00"/>
<rect x="531.7" y="314.2" width="3.6" height="3.6" fill="#0000ff"/>
<rect x="522.7" y="319.2" width="3.6" height="3.6" fill="#00ff00"/>
<rect x="526.2" y="319.2" width="3.6" height="3.6" fill="#00ff00"/>
<rect x="530.5" y="318.6" width="3.6" height="3.6" fill="#808080"/>
<rect x="534.9" y="307.6" width="3.6" height="3.6" fill="#800000"/>
<rect x="535.2" y="318.6" width="3.6" height="3.6" fill="#808080"/>
<rect x="538.2" y="319.2" width="3.6" height="3.6" fill="#00ff00"/>
<rect x="540.0" y="315.9" width="3.6" height="3.6" fill="#00ff00"/>
<rect x="542.2" y="319.2" width="3.6" height="3.6" fill="#00ff00"/>
<rect x="545.2" y="319.2" width="3.6" height="3.6" fill="#00ff00"/>
<rect x="548.2" y="319.2" width="3.6" height="3.6" fill="#00ff00"/>
<rect x="551.2" y="319.2" width="3.6" height="3.6" fill="#00ff00"/>
<rect x="553.6" y="319.2" width="3.6" height="3.6" fill="#ff0000"/>
<rect x="555.0" y="319.2" width="3.6" height="3.6" fill="#0000ff"/>
<rect x="557.2" y="319.2" width="3.6" height="3.6" fill="#808080"/>
<rect x="559.4" y="318.6" width="3.6" height="3.6" fill="#800000"/>
<rect x="560.9" y="317.1" width="3.6" height="3.6" fill="#ff0000"/>
<rect x="563.8" y="319.2" width="3.6" height="3.6" fill="#808080"/>
<rect x="566.0" y="319.2" width="3.6" height="3.6" fill="#0000ff"/>
<rect x="569.6" y="319.2" width="3.6" height="3.6" fill="#00ff00"/>
<rect x="572.3" y="294.8" width="3.6" height="3.6" fill="#808080"/>
<rect x="573.3" y="296.2" width="3.6" height="3.6" fill="#0000ff"/>
<rect x="574.7" y="306.4" width="3.6" height="3.6" fill="#ff00ff"/>
<rect x="575.5" y="302.8" width="3.6" height="3.6" fill="#00ffff"/>
<rect x="577.0" y="295.2" width="3.6" height="3.6" fill="#ffff00"/>
<rect x="574.7" y="319.2" width="3.6" height="3.6" fill="#ff0000"/>
<rect x="579.3" y="319.5" width="3.6" height="3.6" fill="#808080"/>
<rect x="584.0" y="319.5" width="3.6" height="3.6" fill="#ff0000"/>
<rect x="586.7" y="307.0" width="3.6" height="3.6" fill="#0000ff"/>
<rect x="587.9" y="320.2" width="3.6" height="3.6" fill="#0000ff"/>
<rect x="593.1" y="317.9" width="3.6" height="3.6" fill="#0000ff"/>
<rect x="593.4" y="319.5" width="3.6" height="3.6" fill="#808080"/>
<rect x="596.5" y="319.5" width="3.6" height="3.6" fill="#ff0000"/>
<rect x="597.0" y="312.9" width="3.6" height="3.6" fill="#800000"/>
<rect x="600.4" y="319.5" width="3.6" height="3.6" fill="#808080"/>
<rect x="602.8" y="317.9" width="3.6" height="3.6" fill="#0000ff"/>
<rect x="604.3" y="319.5" width="3.6" height="3.6" fill="#0000ff"/>
<rect x="608.2" y="320.2" width="3.6" height="3.6" fill="#808080"/>
<rect x="609.5" y="318.4" width="3.6" height="3.6" fill="#0000ff"/>
<rect x="610.9" y="320.2" width="3.6" height="3.6" fill="#ff00ff"/>
<rect x="614.5" y="319.5" width="3.6" height="3.6" fill="#ff0000"/>
<rect x="617.2" y="316.8" width="3.6" height="3.6" fill="#ff0000"/>
<rect x="620.7" y="318.7" width="3.6" height="3.6" fill="#800000"/>
<rect x="623.9" y="318.7" width="3.6" height="3.6" fill="#ff0000"/>
<rect x="623.1" y="321.0" width="3.6" height="3.6" fill="#00ff00"/>
<rect x="627.5" y="317.1" width="3.6" height="3.6" fill="#0000ff"/>
<rect x="629.0" y="320.2" width="3.6" height="3.6" fill="#00ff00"/>
<rect x="631.7" y="319.5" width="3.6" height="3.6" fill="#808080"/>
<rect x="634.8" y="314.8" width="3.6" height="3.6" fill="#800000"/>
<rect x="635.6" y="317.1" width="3.6" height="3.6" fill="#0000ff"/>
<rect x="637.6" y="319.5" width="3.6" height="3.6" fill="#0000ff"/>
<rect x="640.7" y="319.5" width="3.6" height="3.6" fill="#808080"/>
<rect x="644.2" y="317.1" width="3.6" height="3.6" fill="#808080"/>
<rect x="645.0" y="319.5" width="3.6" height="3.6" fill="#ff0000"/>
<rect x="648.4" y="319.5" width="3.6" height="3.6" fill="#ff0000"/>
<rect x="649.3" y="317.1" width="3.6" height="3.6" fill="#ffff00"/>
<rect x="652.5" y="317.9" width="3.6" height="3.6" fill="#800000"/>
<rect x="653.5" y="321.0" width="3.6" height="3.6" fill="#00ff00"/>
<rect x="655.9" y="310.5" width="3.6" height="3.6" fill="#0000ff"/>
<rect x="658.7" y="317.9" width="3.6" height="3.6" fill="#0000ff"/>
<rect x="661.4" y="319.5" width="3.6" height="3.6" fill="#ff0000"/>
<rect x="664.2" y="319.5" width="3.6" height="3.6" fill="#808080"/>
<rect x="667.6" y="319.5" width="3.6" height="3.6" fill="#ff0000"/>
<rect x="670.4" y="314.5" width="3.6" height="3.6" fill="#808080"/>
<rect x="671.0" y="319.5" width="3.6" height="3.6" fill="#808080"/>
<rect x="673.4" y="317.1" width="3.6" height="3.6" fill="#ff00ff"/>
<rect x="675.9" y="316.0" width="3.6" height="3.6" fill="#ffff00"/>
<rect x="677.0" y="319.5" width="3.6" height="3.6" fill="#ff0000"/>
<rect x="681.7" y="319.5" width="3.6" height="3.6" fill="#0000ff"/>
<rect x="286.2" y="319.5" width="3.6" height="3.6" fill="#00ff00"/>
<rect x="291.2" y="319.5" width="3.6" height="3.6" fill="#00ff00"/>
<rect x="308.7" y="320.1" width="3.6" height="3.6" fill="#00ff00"/>
<rect x="313.7" y="320.1" width="3.6" height="3.6" fill="#00ff00"/>
<rect x="321.2" y="319.5" width="3.6" height="3.6" fill="#00ff00"/>
<rect x="326.2" y="319.5" width="3.6" height="3.6" fill="#00ff00"/>
<rect x="328.7" y="320.1" width="3.6" height="3.6" fill="#00ff00"/>
<rect x="336.2" y="319.5" width="3.6" height="3.6" fill="#00ff00"/>
<rect x="338.7" y="320.1" width="3.6" height="3.6" fill="#00ff00"/>
<rect x="346.2" y="319.5" width="3.6" height="3.6" fill="#00ff00"/>
<rect x="363.7" y="320.1" width="3.6" height="3.6" fill="#00ff00"/>
<rect x="378.7" y="320.1" width="3.6" height="3.6" fill="#00ff00"/>
<rect x="381.2" y="319.5" width="3.6" height="3.6" fill="#00ff00"/>
<rect x="391.2" y="319.5" width="3.6" height="3.6" fill="#00ff00"/>
<rect x="403.2" y="319.5" width="3.6" height="3.6" fill="#00ff00"/>
<rect x="408.2" y="319.5" width="3.6" height="3.6" fill="#808080"/>
<rect x="413.2" y="319.5" width="3.6" height="3.6" fill="#00ff00"/>
<rect x="443.2" y="319.5" width="3.6" height="3.6" fill="#00ff00"/>
<rect x="458.2" y="319.5" width="3.6" height="3.6" fill="#808080"/>
<rect x="460.7" y="320.1" width="3.6" height="3.6" fill="#00ff00"/>
<rect x="475.7" y="320.1" width="3.6" height="3.6" fill="#00ff00"/>
<rect x="480.7" y="320.1" width="3.6" height="3.6" fill="#00ff00"/>
<rect x="493.2" y="319.5" width="3.6" height="3.6" fill="#00ff00"/>
<rect x="495.7" y="320.1" width="3.6" height="3.6" fill="#808080"/>
<rect x="510.7" y="320.1" width="3.6" height="3.6" fill="#00ff00"/>
<rect x="528.2" y="319.5" width="3.6" height="3.6" fill="#00ff00"/>
<rect x="533.2" y="319.5" width="3.6" height="3.6" fill="#808080"/>
<rect x="571.7" y="320.1" width="3.6" height="3.6" fill="#ff0000"/>
<rect x="576.7" y="320.1" width="3.6" height="3.6" fill="#0000ff"/>
<rect x="581.7" y="320.1" width="3.6" height="3.6" fill="#800000"/>
<rect x="646.7" y="320.1" width="3.6" height="3.6" fill="#0000ff"/>
<rect x="656.7" y="320.1" width="3.6" height="3.6" fill="#0000ff"/>
<rect x="669.2" y="319.5" width="3.6" height="3.6" fill="#800000"/>
<rect x="679.2" y="319.5" width="3.6" height="3.6" fill="#808080"/></g>
</g>
<text x="80.6" y="37.1" font-family="Liberation Sans, sans-serif" font-size="9.2" fill="#262626">JN-B4</text>
<rect x="80.2" y="42.3" width="3.6" height="3.6" fill="#0000ff"/>
<text x="95" y="50.1" font-family="Liberation Sans, sans-serif" font-size="9.2" fill="#262626" textLength="96.4" lengthAdjust="spacingAndGlyphs">H4 Ca1 O6 S1; Gypsum</text>
<rect x="80.2" y="54.7" width="3.6" height="3.6" fill="#00ff00"/>
<text x="95" y="62.5" font-family="Liberation Sans, sans-serif" font-size="9.2" fill="#262626" textLength="82.3" lengthAdjust="spacingAndGlyphs">H2 Mg1 O2; Brucite</text>
<rect x="80.2" y="67.1" width="3.6" height="3.6" fill="#808080"/>
<text x="95" y="74.9" font-family="Liberation Sans, sans-serif" font-size="9.2" fill="#262626" textLength="100.4" lengthAdjust="spacingAndGlyphs">Fe1.889 O3.914 Zn0.945</text>
<rect x="80.2" y="79.4" width="3.6" height="3.6" fill="#800000"/>
<text x="95" y="87.2" font-family="Liberation Sans, sans-serif" font-size="9.2" fill="#262626" textLength="95.2" lengthAdjust="spacingAndGlyphs">H2 Ca1 O2; Portlandite</text>
<rect x="80.2" y="91.8" width="3.6" height="3.6" fill="#00ffff"/>
<text x="95" y="99.6" font-family="Liberation Sans, sans-serif" font-size="9.2" fill="#262626" textLength="97.7" lengthAdjust="spacingAndGlyphs">Fe2 O4 Zn1; Franklinite</text>
<rect x="80.2" y="104.2" width="3.6" height="3.6" fill="#ff00ff"/>
<text x="95" y="112.0" font-family="Liberation Sans, sans-serif" font-size="9.2" fill="#262626" textLength="147.6" lengthAdjust="spacingAndGlyphs">Fe1.71 Mg1.43 O4; Magnesioferrite</text>
<rect x="80.2" y="116.6" width="3.6" height="3.6" fill="#ffff00"/>
<text x="95" y="124.4" font-family="Liberation Sans, sans-serif" font-size="9.2" fill="#262626" textLength="44.3" lengthAdjust="spacingAndGlyphs">H1 Fe1 O2</text>
<rect x="80.2" y="129.0" width="3.6" height="3.6" fill="#ff0000"/>
<text x="95" y="136.8" font-family="Liberation Sans, sans-serif" font-size="9.2" fill="#262626" textLength="213.6" lengthAdjust="spacingAndGlyphs">Al1.3 Ca2 Mg0.35 O7 Si1.35; Akermanite-Gehlenite</text>
<rect x="80.2" y="141.3" width="3.6" height="3.6" fill="#0000ff"/>
<text x="95" y="149.1" font-family="Liberation Sans, sans-serif" font-size="9.2" fill="#262626" textLength="28.5" lengthAdjust="spacingAndGlyphs">Fe2 O3</text>
<rect x="80.2" y="153.7" width="3.6" height="3.6" fill="#00ff00"/>
<text x="95" y="161.5" font-family="Liberation Sans, sans-serif" font-size="9.2" fill="#262626" textLength="127.4" lengthAdjust="spacingAndGlyphs">H64 Al2 Ca6 O50 S3; Ettringite</text>
<rect x="80.2" y="166.1" width="3.6" height="3.6" fill="#808080"/>
<text x="95" y="173.9" font-family="Liberation Sans, sans-serif" font-size="9.2" fill="#262626" textLength="43.3" lengthAdjust="spacingAndGlyphs">C1 Ca1 O3</text>
<rect x="80.2" y="178.5" width="3.6" height="3.6" fill="#800000"/>
<text x="95" y="186.3" font-family="Liberation Sans, sans-serif" font-size="9.2" fill="#262626" textLength="31.5" lengthAdjust="spacingAndGlyphs">Ca1 O1</text>
<rect x="78" y="28.9" width="605" height="296.2" fill="none" stroke="#161616" stroke-width="1.9"/>
</g>
<g transform="translate(0,366.70)">
<text x="-0.6" y="11.8" font-family="Liberation Serif, serif" font-size="17.6" fill="#000">(d)</text>
<text x="1.8" y="24.8" font-family="Liberation Sans, sans-serif" font-size="9.7" fill="#262626" textLength="28" lengthAdjust="spacingAndGlyphs">Counts</text>
<line x1="71.4" y1="324.3" x2="78" y2="324.3" stroke="#444" stroke-width="1.1"/>
<text x="62.8" y="327.7" font-family="Liberation Sans, sans-serif" font-size="10.0" fill="#262626" textLength="4.4" lengthAdjust="spacingAndGlyphs">0</text>
<line x1="71.4" y1="259.3" x2="78" y2="259.3" stroke="#444" stroke-width="1.1"/>
<text x="43.0" y="262.7" font-family="Liberation Sans, sans-serif" font-size="10.0" fill="#262626" textLength="24.2" lengthAdjust="spacingAndGlyphs">20000</text>
<line x1="71.4" y1="194.3" x2="78" y2="194.3" stroke="#444" stroke-width="1.1"/>
<text x="43.0" y="197.7" font-family="Liberation Sans, sans-serif" font-size="10.0" fill="#262626" textLength="24.2" lengthAdjust="spacingAndGlyphs">40000</text>
<line x1="71.4" y1="129.3" x2="78" y2="129.3" stroke="#444" stroke-width="1.1"/>
<text x="43.0" y="132.7" font-family="Liberation Sans, sans-serif" font-size="10.0" fill="#262626" textLength="24.2" lengthAdjust="spacingAndGlyphs">60000</text>
<line x1="71.4" y1="64.3" x2="78" y2="64.3" stroke="#444" stroke-width="1.1"/>
<text x="43.0" y="67.7" font-family="Liberation Sans, sans-serif" font-size="10.0" fill="#262626" textLength="24.2" lengthAdjust="spacingAndGlyphs">80000</text>
<line x1="78.1" y1="325.5" x2="78.1" y2="327.8" stroke="#333" stroke-width="1"/>
<line x1="86.7" y1="325.5" x2="86.7" y2="327.8" stroke="#333" stroke-width="1"/>
<line x1="95.4" y1="325.5" x2="95.4" y2="327.8" stroke="#333" stroke-width="1"/>
<line x1="104.0" y1="325.5" x2="104.0" y2="327.8" stroke="#333" stroke-width="1"/>
<line x1="112.7" y1="325.5" x2="112.7" y2="327.8" stroke="#333" stroke-width="1"/>
<line x1="121.3" y1="325.5" x2="121.3" y2="332.6" stroke="#222" stroke-width="1.1"/>
<text x="116.8" y="341.6" font-family="Liberation Sans, sans-serif" font-size="10.2" fill="#262626" textLength="9.1" lengthAdjust="spacingAndGlyphs">10</text>
<line x1="129.9" y1="325.5" x2="129.9" y2="327.8" stroke="#333" stroke-width="1"/>
<line x1="138.6" y1="325.5" x2="138.6" y2="327.8" stroke="#333" stroke-width="1"/>
<line x1="147.2" y1="325.5" x2="147.2" y2="327.8" stroke="#333" stroke-width="1"/>
<line x1="155.9" y1="325.5" x2="155.9" y2="327.8" stroke="#333" stroke-width="1"/>
<line x1="164.5" y1="325.5" x2="164.5" y2="327.8" stroke="#333" stroke-width="1"/>
<line x1="173.1" y1="325.5" x2="173.1" y2="327.8" stroke="#333" stroke-width="1"/>
<line x1="181.8" y1="325.5" x2="181.8" y2="327.8" stroke="#333" stroke-width="1"/>
<line x1="190.4" y1="325.5" x2="190.4" y2="327.8" stroke="#333" stroke-width="1"/>
<line x1="199.1" y1="325.5" x2="199.1" y2="327.8" stroke="#333" stroke-width="1"/>
<line x1="207.7" y1="325.5" x2="207.7" y2="332.6" stroke="#222" stroke-width="1.1"/>
<text x="203.2" y="341.6" font-family="Liberation Sans, sans-serif" font-size="10.2" fill="#262626" textLength="9.1" lengthAdjust="spacingAndGlyphs">20</text>
<line x1="216.3" y1="325.5" x2="216.3" y2="327.8" stroke="#333" stroke-width="1"/>
<line x1="225.0" y1="325.5" x2="225.0" y2="327.8" stroke="#333" stroke-width="1"/>
<line x1="233.6" y1="325.5" x2="233.6" y2="327.8" stroke="#333" stroke-width="1"/>
<line x1="242.3" y1="325.5" x2="242.3" y2="327.8" stroke="#333" stroke-width="1"/>
<line x1="250.9" y1="325.5" x2="250.9" y2="327.8" stroke="#333" stroke-width="1"/>
<line x1="259.5" y1="325.5" x2="259.5" y2="327.8" stroke="#333" stroke-width="1"/>
<line x1="268.2" y1="325.5" x2="268.2" y2="327.8" stroke="#333" stroke-width="1"/>
<line x1="276.8" y1="325.5" x2="276.8" y2="327.8" stroke="#333" stroke-width="1"/>
<line x1="285.5" y1="325.5" x2="285.5" y2="327.8" stroke="#333" stroke-width="1"/>
<line x1="294.1" y1="325.5" x2="294.1" y2="332.6" stroke="#222" stroke-width="1.1"/>
<text x="289.6" y="341.6" font-family="Liberation Sans, sans-serif" font-size="10.2" fill="#262626" textLength="9.1" lengthAdjust="spacingAndGlyphs">30</text>
<line x1="302.7" y1="325.5" x2="302.7" y2="327.8" stroke="#333" stroke-width="1"/>
<line x1="311.4" y1="325.5" x2="311.4" y2="327.8" stroke="#333" stroke-width="1"/>
<line x1="320.0" y1="325.5" x2="320.0" y2="327.8" stroke="#333" stroke-width="1"/>
<line x1="328.7" y1="325.5" x2="328.7" y2="327.8" stroke="#333" stroke-width="1"/>
<line x1="337.3" y1="325.5" x2="337.3" y2="327.8" stroke="#333" stroke-width="1"/>
<line x1="345.9" y1="325.5" x2="345.9" y2="327.8" stroke="#333" stroke-width="1"/>
<line x1="354.6" y1="325.5" x2="354.6" y2="327.8" stroke="#333" stroke-width="1"/>
<line x1="363.2" y1="325.5" x2="363.2" y2="327.8" stroke="#333" stroke-width="1"/>
<line x1="371.9" y1="325.5" x2="371.9" y2="327.8" stroke="#333" stroke-width="1"/>
<line x1="380.5" y1="325.5" x2="380.5" y2="332.6" stroke="#222" stroke-width="1.1"/>
<text x="376.0" y="341.6" font-family="Liberation Sans, sans-serif" font-size="10.2" fill="#262626" textLength="9.1" lengthAdjust="spacingAndGlyphs">40</text>
<line x1="389.1" y1="325.5" x2="389.1" y2="327.8" stroke="#333" stroke-width="1"/>
<line x1="397.8" y1="325.5" x2="397.8" y2="327.8" stroke="#333" stroke-width="1"/>
<line x1="406.4" y1="325.5" x2="406.4" y2="327.8" stroke="#333" stroke-width="1"/>
<line x1="415.1" y1="325.5" x2="415.1" y2="327.8" stroke="#333" stroke-width="1"/>
<line x1="423.7" y1="325.5" x2="423.7" y2="327.8" stroke="#333" stroke-width="1"/>
<line x1="432.3" y1="325.5" x2="432.3" y2="327.8" stroke="#333" stroke-width="1"/>
<line x1="441.0" y1="325.5" x2="441.0" y2="327.8" stroke="#333" stroke-width="1"/>
<line x1="449.6" y1="325.5" x2="449.6" y2="327.8" stroke="#333" stroke-width="1"/>
<line x1="458.3" y1="325.5" x2="458.3" y2="327.8" stroke="#333" stroke-width="1"/>
<line x1="466.9" y1="325.5" x2="466.9" y2="332.6" stroke="#222" stroke-width="1.1"/>
<text x="462.4" y="341.6" font-family="Liberation Sans, sans-serif" font-size="10.2" fill="#262626" textLength="9.1" lengthAdjust="spacingAndGlyphs">50</text>
<line x1="475.5" y1="325.5" x2="475.5" y2="327.8" stroke="#333" stroke-width="1"/>
<line x1="484.2" y1="325.5" x2="484.2" y2="327.8" stroke="#333" stroke-width="1"/>
<line x1="492.8" y1="325.5" x2="492.8" y2="327.8" stroke="#333" stroke-width="1"/>
<line x1="501.5" y1="325.5" x2="501.5" y2="327.8" stroke="#333" stroke-width="1"/>
<line x1="510.1" y1="325.5" x2="510.1" y2="327.8" stroke="#333" stroke-width="1"/>
<line x1="518.7" y1="325.5" x2="518.7" y2="327.8" stroke="#333" stroke-width="1"/>
<line x1="527.4" y1="325.5" x2="527.4" y2="327.8" stroke="#333" stroke-width="1"/>
<line x1="536.0" y1="325.5" x2="536.0" y2="327.8" stroke="#333" stroke-width="1"/>
<line x1="544.7" y1="325.5" x2="544.7" y2="327.8" stroke="#333" stroke-width="1"/>
<line x1="553.3" y1="325.5" x2="553.3" y2="332.6" stroke="#222" stroke-width="1.1"/>
<text x="548.8" y="341.6" font-family="Liberation Sans, sans-serif" font-size="10.2" fill="#262626" textLength="9.1" lengthAdjust="spacingAndGlyphs">60</text>
<line x1="561.9" y1="325.5" x2="561.9" y2="327.8" stroke="#333" stroke-width="1"/>
<line x1="570.6" y1="325.5" x2="570.6" y2="327.8" stroke="#333" stroke-width="1"/>
<line x1="579.2" y1="325.5" x2="579.2" y2="327.8" stroke="#333" stroke-width="1"/>
<line x1="587.9" y1="325.5" x2="587.9" y2="327.8" stroke="#333" stroke-width="1"/>
<line x1="596.5" y1="325.5" x2="596.5" y2="327.8" stroke="#333" stroke-width="1"/>
<line x1="605.1" y1="325.5" x2="605.1" y2="327.8" stroke="#333" stroke-width="1"/>
<line x1="613.8" y1="325.5" x2="613.8" y2="327.8" stroke="#333" stroke-width="1"/>
<line x1="622.4" y1="325.5" x2="622.4" y2="327.8" stroke="#333" stroke-width="1"/>
<line x1="631.1" y1="325.5" x2="631.1" y2="327.8" stroke="#333" stroke-width="1"/>
<line x1="639.7" y1="325.5" x2="639.7" y2="332.6" stroke="#222" stroke-width="1.1"/>
<text x="635.2" y="341.6" font-family="Liberation Sans, sans-serif" font-size="10.2" fill="#262626" textLength="9.1" lengthAdjust="spacingAndGlyphs">70</text>
<line x1="648.3" y1="325.5" x2="648.3" y2="327.8" stroke="#333" stroke-width="1"/>
<line x1="657.0" y1="325.5" x2="657.0" y2="327.8" stroke="#333" stroke-width="1"/>
<line x1="665.6" y1="325.5" x2="665.6" y2="327.8" stroke="#333" stroke-width="1"/>
<line x1="674.3" y1="325.5" x2="674.3" y2="327.8" stroke="#333" stroke-width="1"/>
<line x1="682.9" y1="325.5" x2="682.9" y2="327.8" stroke="#333" stroke-width="1"/>
<text x="340.1" y="358.3" font-family="Liberation Sans, sans-serif" font-size="9.2" fill="#262626" textLength="115" lengthAdjust="spacingAndGlyphs">Position [°2θ] (Copper (Cu))</text>
<clipPath id="clipd"><rect x="78.5" y="28.8" width="604" height="296"/></clipPath>
<g clip-path="url(#clipd)">
<path d="M78.0 249.5 L79.0 249.5 L80.0 251.2 L81.1 251.0 L82.1 252.1 L83.1 253.0 L84.1 253.5 L85.1 253.8 L86.2 254.7 L87.2 255.4 L88.2 256.0 L89.3 257.2 L90.4 257.1 L91.5 258.6 L92.6 259.0 L93.7 259.8 L94.8 261.3 L95.9 261.8 L97.0 262.6 L98.0 263.2 L99.1 264.1 L100.1 264.8 L101.2 264.8 L102.2 265.5 L103.3 266.0 L104.3 266.5 L105.3 267.0 L106.3 267.7 L107.4 267.9 L108.4 268.5 L109.4 268.9 L110.8 267.2 L112.3 265.5 L113.3 261.0 L114.3 255.3 L115.2 248.7 L116.1 255.3 L117.1 269.9 L118.3 270.6 L119.4 271.3 L120.6 271.9 L121.8 271.8 L123.0 271.8 L124.1 272.5 L125.3 273.3 L126.4 273.4 L127.6 273.3 L128.7 273.1 L129.8 273.3 L130.9 274.0 L132.0 274.3 L133.1 268.2 L134.2 263.3 L134.8 255.3 L135.4 233.3 L135.6 199.3 L135.9 133.3 L136.0 28.3 L136.3 28.3 L136.4 133.3 L136.6 199.3 L137.1 233.3 L137.6 255.3 L138.2 265.3 L139.3 275.7 L140.3 275.8 L141.4 276.0 L142.4 277.2 L143.5 277.8 L144.5 278.4 L145.6 277.8 L146.6 278.7 L147.6 279.3 L148.6 279.5 L149.7 279.1 L150.7 280.4 L151.7 280.8 L152.7 280.1 L153.7 281.3 L154.8 280.9 L155.8 281.3 L156.8 281.6 L157.8 282.5 L158.8 282.6 L159.9 282.0 L160.9 282.7 L161.9 283.1 L162.9 283.1 L163.9 283.2 L165.0 283.7 L166.0 284.5 L167.0 284.5 L168.2 283.1 L169.5 283.1 L170.7 282.3 L172.6 278.3 L173.6 275.3 L174.6 279.3 L175.8 284.5 L176.9 285.2 L178.0 286.0 L179.2 285.5 L180.3 285.9 L181.5 286.4 L182.6 286.3 L183.8 286.4 L184.8 285.7 L185.9 286.7 L186.9 286.3 L188.0 286.3 L189.0 285.0 L190.1 285.1 L191.1 285.2 L192.1 283.6 L193.1 283.6 L194.1 282.3 L195.1 279.7 L196.2 277.6 L197.2 279.9 L198.2 283.1 L199.2 286.0 L200.4 286.2 L201.6 285.7 L202.8 284.9 L203.9 286.3 L205.0 288.4 L206.0 287.7 L207.0 288.4 L208.1 287.7 L209.1 287.5 L210.1 287.0 L211.6 286.0 L213.0 286.0 L214.5 272.1 L215.5 224.3 L216.3 166.3 L217.1 224.3 L217.6 263.3 L218.1 284.5 L219.3 285.5 L220.6 287.9 L221.8 289.3 L223.0 288.4 L224.2 287.2 L225.4 287.0 L226.6 289.0 L227.9 290.1 L229.1 291.4 L230.2 291.0 L231.3 289.4 L232.4 289.6 L233.5 288.4 L234.9 286.6 L236.4 286.0 L237.2 263.3 L237.9 241.0 L238.6 263.3 L239.2 286.7 L240.0 291.3 L241.0 291.3 L242.0 290.3 L243.2 288.5 L244.3 286.9 L245.5 291.1 L246.8 291.2 L248.0 291.8 L249.0 291.9 L250.0 292.4 L251.0 291.8 L252.0 290.7 L253.0 290.3 L254.0 290.1 L255.0 290.8 L256.5 288.3 L258.0 290.3 L259.0 289.3 L260.0 288.3 L261.0 289.4 L262.0 291.1 L263.8 283.3 L264.7 248.3 L265.6 173.3 L266.0 114.3 L266.4 173.3 L267.0 263.3 L267.6 288.3 L269.0 291.3 L270.0 291.0 L271.0 291.8 L272.2 289.6 L273.5 288.3 L274.7 281.3 L275.5 285.3 L276.5 281.3 L277.5 278.3 L278.5 288.3 L280.0 293.8 L281.0 293.4 L282.0 293.7 L283.0 294.3 L284.2 293.2 L285.5 292.6 L286.3 253.3 L287.5 239.3 L288.0 273.3 L289.0 260.3 L289.8 273.3 L290.7 291.1 L292.5 290.3 L293.8 287.5 L295.0 285.3 L296.2 289.3 L298.0 292.5 L299.0 293.2 L300.0 293.3 L301.5 290.3 L302.6 253.3 L303.3 207.6 L304.3 253.3 L305.2 283.3 L306.0 290.6 L307.0 291.7 L308.0 293.3 L309.0 292.8 L310.0 292.3 L311.0 290.6 L312.0 289.8 L313.0 291.4 L314.0 293.3 L315.0 291.4 L316.0 290.8 L317.1 291.2 L318.3 292.3 L320.2 288.8 L322.0 291.8 L323.4 281.3 L325.2 290.3 L327.0 294.3 L328.0 294.3 L329.0 295.9 L330.0 296.3 L331.0 295.5 L332.0 294.1 L333.0 293.6 L334.0 292.7 L335.2 293.3 L336.5 292.7 L337.9 291.1 L339.3 290.6 L340.2 283.3 L341.1 268.8 L342.5 264.8 L343.4 274.3 L344.4 286.3 L345.8 285.7 L347.2 294.3 L348.5 291.3 L349.9 288.9 L351.3 285.7 L352.8 294.1 L354.1 294.9 L355.4 295.8 L356.6 292.8 L357.8 289.8 L359.5 295.3 L360.8 294.7 L362.0 293.3 L363.1 290.9 L364.1 288.8 L366.0 294.3 L367.1 295.8 L368.2 297.2 L369.3 297.6 L370.4 298.1 L371.4 297.4 L372.5 297.8 L373.8 297.5 L375.0 296.3 L376.6 285.1 L378.0 294.3 L379.0 296.8 L380.0 298.7 L381.2 298.7 L382.3 298.3 L383.5 298.3 L384.5 294.9 L385.5 294.2 L386.5 293.8 L388.0 292.7 L389.6 287.3 L390.8 297.3 L392.5 297.8 L394.0 296.6 L395.2 296.6 L396.5 297.8 L397.8 297.8 L399.0 298.8 L400.2 295.3 L401.1 275.3 L402.3 260.7 L403.2 278.3 L404.0 293.3 L405.0 288.3 L406.5 292.7 L408.0 289.8 L409.2 288.8 L410.0 291.3 L411.5 293.8 L413.0 296.3 L414.2 297.2 L415.5 299.3 L416.8 299.1 L418.0 298.3 L419.0 297.6 L420.0 297.2 L421.0 297.3 L422.6 294.3 L423.3 292.8 L424.5 296.8 L426.0 299.3 L427.0 298.3 L428.0 298.3 L429.3 297.0 L430.6 294.8 L431.6 292.8 L433.0 298.8 L434.0 299.4 L435.0 299.4 L436.0 299.3 L437.0 299.0 L438.0 299.0 L439.0 299.0 L440.0 299.3 L441.0 298.7 L442.0 297.9 L443.0 297.8 L444.2 296.5 L445.5 295.3 L446.5 299.3 L448.2 293.8 L448.8 291.8 L450.5 299.3 L451.5 298.0 L452.5 297.3 L453.5 295.7 L454.5 292.8 L456.0 298.3 L457.2 299.7 L458.5 299.8 L459.8 299.1 L461.0 298.3 L462.0 296.8 L463.0 296.0 L464.0 297.8 L465.0 298.3 L466.0 298.8 L467.0 299.8 L468.3 295.3 L468.9 276.8 L469.6 283.3 L470.3 292.3 L471.5 290.3 L472.6 293.3 L473.9 287.3 L475.0 294.3 L476.8 288.3 L477.4 290.3 L478.0 287.8 L479.2 295.3 L480.0 298.8 L480.2 296.9 L481.6 298.6 L483.1 300.6 L484.3 299.5 L485.6 299.4 L486.8 299.1 L488.2 298.7 L489.7 298.4 L491.1 299.5 L492.6 300.6 L493.8 299.9 L494.9 300.0 L496.1 299.1 L497.2 299.1 L498.4 299.1 L499.5 298.2 L500.6 298.2 L501.7 297.4 L502.8 297.6 L503.9 298.5 L505.0 300.6 L506.2 300.1 L507.5 299.7 L508.7 299.8 L510.1 295.7 L511.6 298.4 L513.3 295.2 L514.6 297.6 L516.0 299.8 L517.2 299.8 L518.3 300.1 L519.5 300.0 L520.6 300.1 L521.8 299.8 L523.2 298.8 L524.7 296.9 L525.8 295.5 L526.9 294.3 L528.3 295.0 L529.8 296.2 L531.0 297.8 L532.3 297.7 L533.5 299.1 L534.7 300.1 L535.9 300.8 L537.1 301.3 L538.1 300.3 L539.1 300.9 L540.2 300.5 L541.2 299.7 L542.2 299.1 L543.4 299.7 L544.6 300.1 L545.7 299.5 L546.9 300.3 L548.1 300.6 L549.3 299.9 L550.5 299.6 L551.7 298.4 L553.2 287.4 L554.3 294.0 L555.4 299.8 L556.6 300.2 L557.7 299.9 L558.9 300.3 L560.0 300.0 L561.2 299.8 L562.4 300.2 L563.6 299.8 L564.7 299.7 L565.9 300.0 L567.1 300.6 L568.1 300.0 L569.1 299.2 L570.2 299.7 L571.2 298.9 L572.2 298.4 L573.3 297.3 L574.4 296.1 L575.5 294.7 L576.8 295.3 L578.0 295.5 L579.1 297.7 L580.3 299.9 L581.4 299.5 L582.5 300.7 L583.6 300.9 L584.7 300.8 L585.8 301.0 L586.8 300.3 L587.9 299.8 L588.9 298.9 L590.1 299.6 L591.3 301.4 L592.3 301.0 L593.4 299.7 L594.4 299.4 L595.5 299.1 L596.6 299.5 L597.7 300.4 L598.8 299.9 L599.9 300.5 L601.2 300.6 L602.5 300.7 L603.8 299.9 L604.9 300.3 L606.0 300.6 L607.1 301.2 L608.2 301.9 L609.3 302.1 L610.3 302.4 L611.4 302.3 L612.4 302.3 L613.4 301.6 L614.5 301.6 L615.5 302.1 L616.8 300.9 L618.1 300.6 L619.4 299.4 L621.0 292.7 L622.5 298.6 L623.5 296.4 L624.6 294.7 L625.7 295.5 L626.9 298.3 L628.0 301.0 L629.0 300.6 L630.1 300.9 L631.1 301.4 L632.2 302.2 L633.2 302.5 L634.3 302.5 L635.4 302.6 L636.5 302.0 L637.6 302.2 L638.8 302.0 L639.9 301.9 L641.0 301.3 L642.1 301.7 L643.1 301.4 L644.2 299.8 L645.2 299.4 L646.2 300.8 L647.3 301.5 L648.3 301.7 L649.3 301.0 L650.4 301.5 L651.4 301.9 L652.5 302.0 L653.5 301.2 L654.6 300.9 L655.6 300.8 L656.7 301.7 L657.7 301.0 L658.9 301.0 L660.0 301.9 L661.2 301.7 L662.4 302.5 L663.5 302.4 L664.6 302.8 L665.7 301.6 L666.9 302.3 L668.0 301.7 L669.1 302.1 L670.2 301.4 L671.3 301.6 L672.4 300.9 L673.5 301.7 L674.6 301.1 L675.7 301.0 L676.8 300.4 L677.8 300.5 L678.9 301.2 L679.9 301.2 L681.0 301.1 L682.0 301.4" fill="none" stroke="#ff0000" stroke-width="0.95" stroke-linejoin="round"/>
<g stroke-width="0.85"><line x1="106.8" y1="321.3" x2="106.8" y2="325.0" stroke="#00ff00"/>
<line x1="114.1" y1="308.8" x2="114.1" y2="325.0" stroke="#00ff00"/>
<line x1="121.4" y1="321.3" x2="121.4" y2="325.0" stroke="#00ff00"/>
<line x1="136.0" y1="250.6" x2="136.0" y2="325.0" stroke="#0000ff"/>
<line x1="141.8" y1="321.3" x2="141.8" y2="325.0" stroke="#00ff00"/>
<line x1="168.1" y1="321.3" x2="168.1" y2="325.0" stroke="#00ff00"/>
<line x1="171.4" y1="316.3" x2="171.4" y2="325.0" stroke="#00ff00"/>
<line x1="174.6" y1="319.2" x2="174.6" y2="325.0" stroke="#ff0000"/>
<line x1="177.3" y1="321.7" x2="177.3" y2="325.0" stroke="#00ff00"/>
<line x1="178.7" y1="321.7" x2="178.7" y2="325.0" stroke="#00ff00"/>
<line x1="186.5" y1="320.7" x2="186.5" y2="325.0" stroke="#ff0000"/>
<line x1="189.7" y1="320.7" x2="189.7" y2="325.0" stroke="#00ff00"/>
<line x1="192.6" y1="320.7" x2="192.6" y2="325.0" stroke="#00ff00"/>
<line x1="193.3" y1="320.3" x2="193.3" y2="325.0" stroke="#00ffff"/>
<line x1="195.5" y1="320.7" x2="195.5" y2="325.0" stroke="#00ff00"/>
<line x1="198.4" y1="320.7" x2="198.4" y2="325.0" stroke="#00ff00"/>
<line x1="196.2" y1="313.7" x2="196.2" y2="325.0" stroke="#00ff00"/>
<line x1="204.3" y1="312.5" x2="204.3" y2="325.0" stroke="#800000"/>
<line x1="208.7" y1="321.7" x2="208.7" y2="325.0" stroke="#00ff00"/>
<line x1="214.5" y1="276.0" x2="214.5" y2="325.0" stroke="#0000ff"/>
<line x1="216.2" y1="320.7" x2="216.2" y2="325.0" stroke="#ff0000"/>
<line x1="226.2" y1="321.3" x2="226.2" y2="325.0" stroke="#00ff00"/>
<line x1="231.3" y1="321.7" x2="231.3" y2="325.0" stroke="#00ff00"/>
<line x1="233.2" y1="318.8" x2="233.2" y2="325.0" stroke="#00ff00"/>
<line x1="234.9" y1="318.0" x2="234.9" y2="325.0" stroke="#808080"/>
<line x1="237.9" y1="312.2" x2="237.9" y2="325.0" stroke="#0000ff"/>
<line x1="237.9" y1="319.2" x2="237.9" y2="325.0" stroke="#0000ff"/>
<line x1="241.8" y1="316.6" x2="241.8" y2="325.0" stroke="#ff0000"/>
<line x1="244.4" y1="317.3" x2="244.4" y2="325.0" stroke="#0000ff"/>
<line x1="243.7" y1="321.3" x2="243.7" y2="325.0" stroke="#00ff00"/>
<line x1="246.6" y1="321.3" x2="246.6" y2="325.0" stroke="#00ff00"/>
<line x1="249.5" y1="321.3" x2="249.5" y2="325.0" stroke="#00ff00"/>
<line x1="252.5" y1="321.7" x2="252.5" y2="325.0" stroke="#0000ff"/>
<line x1="256.8" y1="320.3" x2="256.8" y2="325.0" stroke="#800000"/>
<line x1="256.8" y1="318.9" x2="256.8" y2="325.0" stroke="#00ff00"/>
<line x1="264.9" y1="321.7" x2="264.9" y2="325.0" stroke="#00ff00"/>
<line x1="271.4" y1="321.0" x2="271.4" y2="325.0" stroke="#00ff00"/>
<line x1="274.4" y1="321.3" x2="274.4" y2="325.0" stroke="#00ff00"/>
<line x1="277.7" y1="318.0" x2="277.7" y2="325.0" stroke="#0000ff"/>
<line x1="278.7" y1="317.8" x2="278.7" y2="325.0" stroke="#0000ff"/>
<line x1="283.8" y1="321.5" x2="283.8" y2="325.0" stroke="#00ff00"/>
<line x1="286.0" y1="315.3" x2="286.0" y2="325.0" stroke="#ff0000"/>
<line x1="287.5" y1="289.1" x2="287.5" y2="325.0" stroke="#0000ff"/>
<line x1="289.7" y1="285.7" x2="289.7" y2="325.0" stroke="#808080"/>
<line x1="291.1" y1="320.7" x2="291.1" y2="325.0" stroke="#00ff00"/>
<line x1="292.0" y1="320.0" x2="292.0" y2="325.0" stroke="#800000"/>
<line x1="294.1" y1="317.1" x2="294.1" y2="325.0" stroke="#808080"/>
<line x1="295.2" y1="310.5" x2="295.2" y2="325.0" stroke="#ff00ff"/>
<line x1="296.5" y1="309.8" x2="296.5" y2="325.0" stroke="#00ffff"/>
<line x1="297.0" y1="308.8" x2="297.0" y2="325.0" stroke="#ffff00"/>
<line x1="296.0" y1="321.5" x2="296.0" y2="325.0" stroke="#00ff00"/>
<line x1="299.0" y1="321.5" x2="299.0" y2="325.0" stroke="#00ff00"/>
<line x1="302.0" y1="321.5" x2="302.0" y2="325.0" stroke="#00ff00"/>
<line x1="304.3" y1="278.1" x2="304.3" y2="325.0" stroke="#0000ff"/>
<line x1="304.7" y1="290.5" x2="304.7" y2="325.0" stroke="#ff0000"/>
<line x1="305.0" y1="317.8" x2="305.0" y2="325.0" stroke="#0000ff"/>
<line x1="307.2" y1="320.7" x2="307.2" y2="325.0" stroke="#808080"/>
<line x1="310.8" y1="320.7" x2="310.8" y2="325.0" stroke="#00ff00"/>
<line x1="312.7" y1="313.0" x2="312.7" y2="325.0" stroke="#0000ff"/>
<line x1="313.8" y1="320.0" x2="313.8" y2="325.0" stroke="#00ff00"/>
<line x1="317.4" y1="320.3" x2="317.4" y2="325.0" stroke="#ff0000"/>
<line x1="320.3" y1="321.5" x2="320.3" y2="325.0" stroke="#00ff00"/>
<line x1="323.0" y1="321.5" x2="323.0" y2="325.0" stroke="#00ff00"/>
<line x1="322.2" y1="305.1" x2="322.2" y2="325.0" stroke="#0000ff"/>
<line x1="324.0" y1="289.1" x2="324.0" y2="325.0" stroke="#0000ff"/>
<line x1="326.0" y1="321.5" x2="326.0" y2="325.0" stroke="#00ff00"/>
<line x1="330.6" y1="320.7" x2="330.6" y2="325.0" stroke="#00ff00"/>
<line x1="333.5" y1="317.8" x2="333.5" y2="325.0" stroke="#0000ff"/>
<line x1="335.0" y1="320.7" x2="335.0" y2="325.0" stroke="#00ff00"/>
<line x1="338.0" y1="320.0" x2="338.0" y2="325.0" stroke="#00ff00"/>
<line x1="340.0" y1="305.7" x2="340.0" y2="325.0" stroke="#808080"/>
<line x1="341.1" y1="297.1" x2="341.1" y2="325.0" stroke="#ff00ff"/>
<line x1="342.2" y1="290.8" x2="342.2" y2="325.0" stroke="#00ffff"/>
<line x1="343.0" y1="293.4" x2="343.0" y2="325.0" stroke="#ffff00"/>
<line x1="344.4" y1="305.1" x2="344.4" y2="325.0" stroke="#800000"/>
<line x1="343.0" y1="310.5" x2="343.0" y2="325.0" stroke="#0000ff"/>
<line x1="345.9" y1="312.0" x2="345.9" y2="325.0" stroke="#0000ff"/>
<line x1="346.6" y1="316.8" x2="346.6" y2="325.0" stroke="#808080"/>
<line x1="342.5" y1="321.5" x2="342.5" y2="325.0" stroke="#00ff00"/>
<line x1="348.5" y1="321.5" x2="348.5" y2="325.0" stroke="#00ff00"/>
<line x1="351.7" y1="316.8" x2="351.7" y2="325.0" stroke="#ff0000"/>
<line x1="351.0" y1="320.7" x2="351.0" y2="325.0" stroke="#0000ff"/>
<line x1="354.0" y1="321.5" x2="354.0" y2="325.0" stroke="#00ff00"/>
<line x1="357.6" y1="318.6" x2="357.6" y2="325.0" stroke="#ff0000"/>
<line x1="358.3" y1="317.8" x2="358.3" y2="325.0" stroke="#0000ff"/>
<line x1="357.0" y1="321.5" x2="357.0" y2="325.0" stroke="#00ff00"/>
<line x1="360.0" y1="321.5" x2="360.0" y2="325.0" stroke="#00ff00"/>
<line x1="363.0" y1="321.5" x2="363.0" y2="325.0" stroke="#00ff00"/>
<line x1="363.4" y1="309.5" x2="363.4" y2="325.0" stroke="#00ff00"/>
<line x1="366.0" y1="321.5" x2="366.0" y2="325.0" stroke="#00ff00"/>
<line x1="372.6" y1="318.6" x2="372.6" y2="325.0" stroke="#ff0000"/>
<line x1="371.5" y1="321.5" x2="371.5" y2="325.0" stroke="#00ff00"/>
<line x1="374.5" y1="321.5" x2="374.5" y2="325.0" stroke="#00ff00"/>
<line x1="377.0" y1="315.6" x2="377.0" y2="325.0" stroke="#808080"/>
<line x1="378.7" y1="321.0" x2="378.7" y2="325.0" stroke="#800000"/>
<line x1="386.8" y1="311.2" x2="386.8" y2="325.0" stroke="#0000ff"/>
<line x1="387.9" y1="317.7" x2="387.9" y2="325.0" stroke="#0000ff"/>
<line x1="384.0" y1="321.3" x2="384.0" y2="325.0" stroke="#00ff00"/>
<line x1="387.0" y1="321.3" x2="387.0" y2="325.0" stroke="#00ff00"/>
<line x1="390.0" y1="321.3" x2="390.0" y2="325.0" stroke="#00ff00"/>
<line x1="393.0" y1="321.3" x2="393.0" y2="325.0" stroke="#00ff00"/>
<line x1="396.0" y1="321.3" x2="396.0" y2="325.0" stroke="#00ff00"/>
<line x1="399.0" y1="321.3" x2="399.0" y2="325.0" stroke="#00ff00"/>
<line x1="402.0" y1="321.3" x2="402.0" y2="325.0" stroke="#00ff00"/>
<line x1="405.0" y1="321.3" x2="405.0" y2="325.0" stroke="#00ff00"/>
<line x1="407.9" y1="316.3" x2="407.9" y2="325.0" stroke="#808080"/>
<line x1="407.0" y1="317.3" x2="407.0" y2="325.0" stroke="#ff00ff"/>
<line x1="408.7" y1="315.4" x2="408.7" y2="325.0" stroke="#ffff00"/>
<line x1="409.8" y1="308.8" x2="409.8" y2="325.0" stroke="#0000ff"/>
<line x1="412.3" y1="316.9" x2="412.3" y2="325.0" stroke="#0000ff"/>
<line x1="411.0" y1="321.3" x2="411.0" y2="325.0" stroke="#00ff00"/>
<line x1="414.0" y1="321.3" x2="414.0" y2="325.0" stroke="#00ff00"/>
<line x1="417.7" y1="317.3" x2="417.7" y2="325.0" stroke="#ff0000"/>
<line x1="420.0" y1="321.3" x2="420.0" y2="325.0" stroke="#00ff00"/>
<line x1="421.0" y1="320.7" x2="421.0" y2="325.0" stroke="#0000ff"/>
<line x1="423.0" y1="321.3" x2="423.0" y2="325.0" stroke="#00ff00"/>
<line x1="426.0" y1="321.3" x2="426.0" y2="325.0" stroke="#00ff00"/>
<line x1="428.8" y1="318.8" x2="428.8" y2="325.0" stroke="#0000ff"/>
<line x1="431.0" y1="321.3" x2="431.0" y2="325.0" stroke="#00ff00"/>
<line x1="434.0" y1="321.3" x2="434.0" y2="325.0" stroke="#00ff00"/>
<line x1="436.1" y1="318.8" x2="436.1" y2="325.0" stroke="#0000ff"/>
<line x1="439.0" y1="320.8" x2="439.0" y2="325.0" stroke="#ff0000"/>
<line x1="440.0" y1="321.3" x2="440.0" y2="325.0" stroke="#00ff00"/>
<line x1="442.2" y1="318.8" x2="442.2" y2="325.0" stroke="#808080"/>
<line x1="445.4" y1="314.4" x2="445.4" y2="325.0" stroke="#808080"/>
<line x1="444.0" y1="321.3" x2="444.0" y2="325.0" stroke="#00ff00"/>
<line x1="447.0" y1="321.3" x2="447.0" y2="325.0" stroke="#00ff00"/>
<line x1="449.2" y1="310.3" x2="449.2" y2="325.0" stroke="#0000ff"/>
<line x1="450.5" y1="321.3" x2="450.5" y2="325.0" stroke="#00ff00"/>
<line x1="453.6" y1="311.2" x2="453.6" y2="325.0" stroke="#0000ff"/>
<line x1="455.1" y1="314.4" x2="455.1" y2="325.0" stroke="#808080"/>
<line x1="454.0" y1="321.3" x2="454.0" y2="325.0" stroke="#00ff00"/>
<line x1="457.6" y1="318.8" x2="457.6" y2="325.0" stroke="#0000ff"/>
<line x1="458.5" y1="321.3" x2="458.5" y2="325.0" stroke="#ff0000"/>
<line x1="460.5" y1="321.3" x2="460.5" y2="325.0" stroke="#00ff00"/>
<line x1="463.1" y1="316.3" x2="463.1" y2="325.0" stroke="#0000ff"/>
<line x1="465.5" y1="319.3" x2="465.5" y2="325.0" stroke="#ff0000"/>
<line x1="464.0" y1="321.3" x2="464.0" y2="325.0" stroke="#00ff00"/>
<line x1="467.0" y1="321.3" x2="467.0" y2="325.0" stroke="#00ff00"/>
<line x1="470.7" y1="317.3" x2="470.7" y2="325.0" stroke="#800000"/>
<line x1="470.0" y1="315.8" x2="470.0" y2="325.0" stroke="#0000ff"/>
<line x1="471.0" y1="321.3" x2="471.0" y2="325.0" stroke="#00ff00"/>
<line x1="473.6" y1="317.3" x2="473.6" y2="325.0" stroke="#0000ff"/>
<line x1="474.5" y1="321.3" x2="474.5" y2="325.0" stroke="#00ff00"/>
<line x1="477.6" y1="312.9" x2="477.6" y2="325.0" stroke="#0000ff"/>
<line x1="478.7" y1="313.4" x2="478.7" y2="325.0" stroke="#0000ff"/>
<line x1="483.5" y1="315.4" x2="483.5" y2="325.0" stroke="#ff0000"/>
<line x1="478.5" y1="321.3" x2="478.5" y2="325.0" stroke="#00ff00"/>
<line x1="481.5" y1="321.3" x2="481.5" y2="325.0" stroke="#00ff00"/>
<line x1="484.5" y1="321.3" x2="484.5" y2="325.0" stroke="#00ff00"/>
<line x1="487.5" y1="321.3" x2="487.5" y2="325.0" stroke="#00ff00"/>
<line x1="489.4" y1="316.9" x2="489.4" y2="325.0" stroke="#800000"/>
<line x1="490.5" y1="321.3" x2="490.5" y2="325.0" stroke="#00ff00"/>
<line x1="493.5" y1="321.3" x2="493.5" y2="325.0" stroke="#00ff00"/>
<line x1="496.7" y1="317.7" x2="496.7" y2="325.0" stroke="#ff00ff"/>
<line x1="498.7" y1="317.3" x2="498.7" y2="325.0" stroke="#ffff00"/>
<line x1="496.5" y1="321.3" x2="496.5" y2="325.0" stroke="#00ff00"/>
<line x1="499.5" y1="321.3" x2="499.5" y2="325.0" stroke="#00ff00"/>
<line x1="502.8" y1="312.9" x2="502.8" y2="325.0" stroke="#0000ff"/>
<line x1="503.0" y1="321.3" x2="503.0" y2="325.0" stroke="#00ff00"/>
<line x1="506.0" y1="321.3" x2="506.0" y2="325.0" stroke="#00ff00"/>
<line x1="509.0" y1="321.3" x2="509.0" y2="325.0" stroke="#00ff00"/>
<line x1="511.9" y1="316.3" x2="511.9" y2="325.0" stroke="#0000ff"/>
<line x1="512.0" y1="321.3" x2="512.0" y2="325.0" stroke="#00ff00"/>
<line x1="515.0" y1="321.3" x2="515.0" y2="325.0" stroke="#00ff00"/>
<line x1="518.6" y1="318.5" x2="518.6" y2="325.0" stroke="#0000ff"/>
<line x1="518.0" y1="321.3" x2="518.0" y2="325.0" stroke="#ff0000"/>
<line x1="521.0" y1="321.3" x2="521.0" y2="325.0" stroke="#00ff00"/>
<line x1="524.4" y1="318.3" x2="524.4" y2="325.0" stroke="#800000"/>
<line x1="525.0" y1="320.3" x2="525.0" y2="325.0" stroke="#808080"/>
<line x1="527.6" y1="315.1" x2="527.6" y2="325.0" stroke="#ff00ff"/>
<line x1="530.1" y1="313.7" x2="530.1" y2="325.0" stroke="#ffff00"/>
<line x1="528.0" y1="321.3" x2="528.0" y2="325.0" stroke="#00ff00"/>
<line x1="531.0" y1="321.3" x2="531.0" y2="325.0" stroke="#00ff00"/>
<line x1="532.3" y1="318.0" x2="532.3" y2="325.0" stroke="#808080"/>
<line x1="534.0" y1="321.3" x2="534.0" y2="325.0" stroke="#00ff00"/>
<line x1="537.0" y1="320.8" x2="537.0" y2="325.0" stroke="#808080"/>
<line x1="539.0" y1="321.3" x2="539.0" y2="325.0" stroke="#00ff00"/>
<line x1="541.8" y1="318.0" x2="541.8" y2="325.0" stroke="#00ff00"/>
<line x1="543.0" y1="321.3" x2="543.0" y2="325.0" stroke="#00ff00"/>
<line x1="546.0" y1="321.3" x2="546.0" y2="325.0" stroke="#00ff00"/>
<line x1="549.0" y1="321.3" x2="549.0" y2="325.0" stroke="#00ff00"/>
<line x1="552.0" y1="321.3" x2="552.0" y2="325.0" stroke="#00ff00"/>
<line x1="553.9" y1="321.3" x2="553.9" y2="325.0" stroke="#ff0000"/>
<line x1="556.8" y1="320.7" x2="556.8" y2="325.0" stroke="#0000ff"/>
<line x1="559.8" y1="321.0" x2="559.8" y2="325.0" stroke="#808080"/>
<line x1="562.7" y1="319.5" x2="562.7" y2="325.0" stroke="#ff0000"/>
<line x1="563.0" y1="321.0" x2="563.0" y2="325.0" stroke="#808080"/>
<line x1="566.6" y1="321.0" x2="566.6" y2="325.0" stroke="#808080"/>
<line x1="568.5" y1="321.0" x2="568.5" y2="325.0" stroke="#0000ff"/>
<line x1="571.4" y1="320.7" x2="571.4" y2="325.0" stroke="#00ff00"/>
<line x1="574.1" y1="314.8" x2="574.1" y2="325.0" stroke="#808080"/>
<line x1="574.4" y1="316.9" x2="574.4" y2="325.0" stroke="#0000ff"/>
<line x1="575.5" y1="310.0" x2="575.5" y2="325.0" stroke="#ff00ff"/>
<line x1="577.3" y1="309.0" x2="577.3" y2="325.0" stroke="#ffff00"/>
<line x1="577.5" y1="312.3" x2="577.5" y2="325.0" stroke="#00ffff"/>
<line x1="576.0" y1="321.3" x2="576.0" y2="325.0" stroke="#ff0000"/>
<line x1="578.8" y1="309.1" x2="578.8" y2="325.0" stroke="#ffff00"/>
<line x1="581.1" y1="321.2" x2="581.1" y2="325.0" stroke="#808080"/>
<line x1="585.8" y1="321.2" x2="585.8" y2="325.0" stroke="#ff0000"/>
<line x1="588.6" y1="319.2" x2="588.6" y2="325.0" stroke="#0000ff"/>
<line x1="589.7" y1="321.6" x2="589.7" y2="325.0" stroke="#0000ff"/>
<line x1="594.9" y1="318.1" x2="594.9" y2="325.0" stroke="#0000ff"/>
<line x1="595.2" y1="320.8" x2="595.2" y2="325.0" stroke="#808080"/>
<line x1="598.3" y1="320.8" x2="598.3" y2="325.0" stroke="#ff0000"/>
<line x1="598.8" y1="320.0" x2="598.8" y2="325.0" stroke="#800000"/>
<line x1="602.2" y1="321.2" x2="602.2" y2="325.0" stroke="#808080"/>
<line x1="604.6" y1="319.7" x2="604.6" y2="325.0" stroke="#0000ff"/>
<line x1="606.1" y1="321.6" x2="606.1" y2="325.0" stroke="#0000ff"/>
<line x1="610.0" y1="321.6" x2="610.0" y2="325.0" stroke="#808080"/>
<line x1="611.3" y1="319.7" x2="611.3" y2="325.0" stroke="#0000ff"/>
<line x1="612.7" y1="321.6" x2="612.7" y2="325.0" stroke="#ff00ff"/>
<line x1="616.3" y1="321.2" x2="616.3" y2="325.0" stroke="#ff0000"/>
<line x1="619.0" y1="319.2" x2="619.0" y2="325.0" stroke="#ff0000"/>
<line x1="622.5" y1="320.8" x2="622.5" y2="325.0" stroke="#800000"/>
<line x1="625.7" y1="320.0" x2="625.7" y2="325.0" stroke="#ff0000"/>
<line x1="624.9" y1="322.3" x2="624.9" y2="325.0" stroke="#00ff00"/>
<line x1="629.3" y1="318.1" x2="629.3" y2="325.0" stroke="#0000ff"/>
<line x1="630.8" y1="322.3" x2="630.8" y2="325.0" stroke="#00ff00"/>
<line x1="633.5" y1="320.8" x2="633.5" y2="325.0" stroke="#808080"/>
<line x1="637.4" y1="320.8" x2="637.4" y2="325.0" stroke="#0000ff"/>
<line x1="639.4" y1="321.6" x2="639.4" y2="325.0" stroke="#0000ff"/>
<line x1="642.5" y1="320.8" x2="642.5" y2="325.0" stroke="#808080"/>
<line x1="646.8" y1="321.2" x2="646.8" y2="325.0" stroke="#ff0000"/>
<line x1="650.2" y1="321.2" x2="650.2" y2="325.0" stroke="#ff0000"/>
<line x1="650.2" y1="320.0" x2="650.2" y2="325.0" stroke="#0000ff"/>
<line x1="652.2" y1="320.8" x2="652.2" y2="325.0" stroke="#ffff00"/>
<line x1="654.3" y1="320.8" x2="654.3" y2="325.0" stroke="#800000"/>
<line x1="655.3" y1="322.3" x2="655.3" y2="325.0" stroke="#00ff00"/>
<line x1="657.7" y1="319.7" x2="657.7" y2="325.0" stroke="#0000ff"/>
<line x1="660.5" y1="321.2" x2="660.5" y2="325.0" stroke="#0000ff"/>
<line x1="663.2" y1="321.6" x2="663.2" y2="325.0" stroke="#0000ff"/>
<line x1="666.0" y1="320.8" x2="666.0" y2="325.0" stroke="#808080"/>
<line x1="669.4" y1="321.2" x2="669.4" y2="325.0" stroke="#ff0000"/>
<line x1="672.8" y1="321.2" x2="672.8" y2="325.0" stroke="#808080"/>
<line x1="675.2" y1="320.0" x2="675.2" y2="325.0" stroke="#ff00ff"/>
<line x1="676.5" y1="318.3" x2="676.5" y2="325.0" stroke="#00ffff"/>
<line x1="678.8" y1="321.2" x2="678.8" y2="325.0" stroke="#ff0000"/>
<line x1="683.5" y1="321.6" x2="683.5" y2="325.0" stroke="#0000ff"/>
<line x1="285.5" y1="321.9" x2="285.5" y2="325.0" stroke="#00ff00"/>
<line x1="288.0" y1="321.3" x2="288.0" y2="325.0" stroke="#00ff00"/>
<line x1="305.5" y1="321.9" x2="305.5" y2="325.0" stroke="#00ff00"/>
<line x1="315.5" y1="321.9" x2="315.5" y2="325.0" stroke="#00ff00"/>
<line x1="328.0" y1="321.3" x2="328.0" y2="325.0" stroke="#00ff00"/>
<line x1="333.0" y1="321.3" x2="333.0" y2="325.0" stroke="#00ff00"/>
<line x1="340.5" y1="321.9" x2="340.5" y2="325.0" stroke="#00ff00"/>
<line x1="345.5" y1="321.9" x2="345.5" y2="325.0" stroke="#00ff00"/>
<line x1="368.0" y1="321.3" x2="368.0" y2="325.0" stroke="#00ff00"/>
<line x1="380.5" y1="321.9" x2="380.5" y2="325.0" stroke="#00ff00"/>
<line x1="407.5" y1="321.9" x2="407.5" y2="325.0" stroke="#00ff00"/>
<line x1="417.5" y1="321.9" x2="417.5" y2="325.0" stroke="#00ff00"/>
<line x1="573.5" y1="321.9" x2="573.5" y2="325.0" stroke="#ff0000"/>
<line x1="578.5" y1="321.9" x2="578.5" y2="325.0" stroke="#0000ff"/>
<line x1="583.5" y1="321.9" x2="583.5" y2="325.0" stroke="#800000"/>
<line x1="648.5" y1="321.9" x2="648.5" y2="325.0" stroke="#0000ff"/>
<line x1="671.0" y1="321.3" x2="671.0" y2="325.0" stroke="#800000"/>
<line x1="681.0" y1="321.3" x2="681.0" y2="325.0" stroke="#808080"/>
<rect x="105.0" y="319.5" width="3.6" height="3.6" fill="#00ff00"/>
<rect x="112.3" y="307.0" width="3.6" height="3.6" fill="#00ff00"/>
<rect x="119.6" y="319.5" width="3.6" height="3.6" fill="#00ff00"/>
<rect x="134.2" y="248.8" width="3.6" height="3.6" fill="#0000ff"/>
<rect x="140.0" y="319.5" width="3.6" height="3.6" fill="#00ff00"/>
<rect x="166.3" y="319.5" width="3.6" height="3.6" fill="#00ff00"/>
<rect x="169.6" y="314.5" width="3.6" height="3.6" fill="#00ff00"/>
<rect x="172.8" y="317.4" width="3.6" height="3.6" fill="#ff0000"/>
<rect x="175.5" y="319.9" width="3.6" height="3.6" fill="#00ff00"/>
<rect x="176.9" y="319.9" width="3.6" height="3.6" fill="#00ff00"/>
<rect x="184.7" y="318.9" width="3.6" height="3.6" fill="#ff0000"/>
<rect x="187.9" y="318.9" width="3.6" height="3.6" fill="#00ff00"/>
<rect x="190.8" y="318.9" width="3.6" height="3.6" fill="#00ff00"/>
<rect x="191.5" y="318.5" width="3.6" height="3.6" fill="#00ffff"/>
<rect x="193.7" y="318.9" width="3.6" height="3.6" fill="#00ff00"/>
<rect x="196.6" y="318.9" width="3.6" height="3.6" fill="#00ff00"/>
<rect x="194.4" y="311.9" width="3.6" height="3.6" fill="#00ff00"/>
<rect x="202.5" y="310.7" width="3.6" height="3.6" fill="#800000"/>
<rect x="206.9" y="319.9" width="3.6" height="3.6" fill="#00ff00"/>
<rect x="212.7" y="274.2" width="3.6" height="3.6" fill="#0000ff"/>
<rect x="214.4" y="318.9" width="3.6" height="3.6" fill="#ff0000"/>
<rect x="224.4" y="319.5" width="3.6" height="3.6" fill="#00ff00"/>
<rect x="229.5" y="319.9" width="3.6" height="3.6" fill="#00ff00"/>
<rect x="231.4" y="317.0" width="3.6" height="3.6" fill="#00ff00"/>
<rect x="233.1" y="316.2" width="3.6" height="3.6" fill="#808080"/>
<rect x="236.1" y="310.4" width="3.6" height="3.6" fill="#0000ff"/>
<rect x="236.1" y="317.4" width="3.6" height="3.6" fill="#0000ff"/>
<rect x="240.0" y="314.8" width="3.6" height="3.6" fill="#ff0000"/>
<rect x="242.6" y="315.5" width="3.6" height="3.6" fill="#0000ff"/>
<rect x="241.9" y="319.5" width="3.6" height="3.6" fill="#00ff00"/>
<rect x="244.8" y="319.5" width="3.6" height="3.6" fill="#00ff00"/>
<rect x="247.7" y="319.5" width="3.6" height="3.6" fill="#00ff00"/>
<rect x="250.7" y="319.9" width="3.6" height="3.6" fill="#0000ff"/>
<rect x="255.0" y="318.5" width="3.6" height="3.6" fill="#800000"/>
<rect x="255.0" y="317.1" width="3.6" height="3.6" fill="#00ff00"/>
<rect x="263.1" y="319.9" width="3.6" height="3.6" fill="#00ff00"/>
<rect x="269.6" y="319.2" width="3.6" height="3.6" fill="#00ff00"/>
<rect x="272.6" y="319.5" width="3.6" height="3.6" fill="#00ff00"/>
<rect x="275.9" y="316.2" width="3.6" height="3.6" fill="#0000ff"/>
<rect x="276.9" y="316.0" width="3.6" height="3.6" fill="#0000ff"/>
<rect x="282.0" y="319.7" width="3.6" height="3.6" fill="#00ff00"/>
<rect x="284.2" y="313.5" width="3.6" height="3.6" fill="#ff0000"/>
<rect x="285.7" y="287.3" width="3.6" height="3.6" fill="#0000ff"/>
<rect x="287.9" y="283.9" width="3.6" height="3.6" fill="#808080"/>
<rect x="289.3" y="318.9" width="3.6" height="3.6" fill="#00ff00"/>
<rect x="290.2" y="318.2" width="3.6" height="3.6" fill="#800000"/>
<rect x="292.3" y="315.3" width="3.6" height="3.6" fill="#808080"/>
<rect x="293.4" y="308.7" width="3.6" height="3.6" fill="#ff00ff"/>
<rect x="294.7" y="308.0" width="3.6" height="3.6" fill="#00ffff"/>
<rect x="295.2" y="307.0" width="3.6" height="3.6" fill="#ffff00"/>
<rect x="294.2" y="319.7" width="3.6" height="3.6" fill="#00ff00"/>
<rect x="297.2" y="319.7" width="3.6" height="3.6" fill="#00ff00"/>
<rect x="300.2" y="319.7" width="3.6" height="3.6" fill="#00ff00"/>
<rect x="302.5" y="276.3" width="3.6" height="3.6" fill="#0000ff"/>
<rect x="302.9" y="288.7" width="3.6" height="3.6" fill="#ff0000"/>
<rect x="303.2" y="316.0" width="3.6" height="3.6" fill="#0000ff"/>
<rect x="305.4" y="318.9" width="3.6" height="3.6" fill="#808080"/>
<rect x="309.0" y="318.9" width="3.6" height="3.6" fill="#00ff00"/>
<rect x="310.9" y="311.2" width="3.6" height="3.6" fill="#0000ff"/>
<rect x="312.0" y="318.2" width="3.6" height="3.6" fill="#00ff00"/>
<rect x="315.6" y="318.5" width="3.6" height="3.6" fill="#ff0000"/>
<rect x="318.5" y="319.7" width="3.6" height="3.6" fill="#00ff00"/>
<rect x="321.2" y="319.7" width="3.6" height="3.6" fill="#00ff00"/>
<rect x="320.4" y="303.3" width="3.6" height="3.6" fill="#0000ff"/>
<rect x="322.2" y="287.3" width="3.6" height="3.6" fill="#0000ff"/>
<rect x="324.2" y="319.7" width="3.6" height="3.6" fill="#00ff00"/>
<rect x="328.8" y="318.9" width="3.6" height="3.6" fill="#00ff00"/>
<rect x="331.7" y="316.0" width="3.6" height="3.6" fill="#0000ff"/>
<rect x="333.2" y="318.9" width="3.6" height="3.6" fill="#00ff00"/>
<rect x="336.2" y="318.2" width="3.6" height="3.6" fill="#00ff00"/>
<rect x="338.2" y="303.9" width="3.6" height="3.6" fill="#808080"/>
<rect x="339.3" y="295.3" width="3.6" height="3.6" fill="#ff00ff"/>
<rect x="340.4" y="289.0" width="3.6" height="3.6" fill="#00ffff"/>
<rect x="341.2" y="291.6" width="3.6" height="3.6" fill="#ffff00"/>
<rect x="342.6" y="303.3" width="3.6" height="3.6" fill="#800000"/>
<rect x="341.2" y="308.7" width="3.6" height="3.6" fill="#0000ff"/>
<rect x="344.1" y="310.2" width="3.6" height="3.6" fill="#0000ff"/>
<rect x="344.8" y="315.0" width="3.6" height="3.6" fill="#808080"/>
<rect x="340.7" y="319.7" width="3.6" height="3.6" fill="#00ff00"/>
<rect x="346.7" y="319.7" width="3.6" height="3.6" fill="#00ff00"/>
<rect x="349.9" y="315.0" width="3.6" height="3.6" fill="#ff0000"/>
<rect x="349.2" y="318.9" width="3.6" height="3.6" fill="#0000ff"/>
<rect x="352.2" y="319.7" width="3.6" height="3.6" fill="#00ff00"/>
<rect x="355.8" y="316.8" width="3.6" height="3.6" fill="#ff0000"/>
<rect x="356.5" y="316.0" width="3.6" height="3.6" fill="#0000ff"/>
<rect x="355.2" y="319.7" width="3.6" height="3.6" fill="#00ff00"/>
<rect x="358.2" y="319.7" width="3.6" height="3.6" fill="#00ff00"/>
<rect x="361.2" y="319.7" width="3.6" height="3.6" fill="#00ff00"/>
<rect x="361.6" y="307.7" width="3.6" height="3.6" fill="#00ff00"/>
<rect x="364.2" y="319.7" width="3.6" height="3.6" fill="#00ff00"/>
<rect x="370.8" y="316.8" width="3.6" height="3.6" fill="#ff0000"/>
<rect x="369.7" y="319.7" width="3.6" height="3.6" fill="#00ff00"/>
<rect x="372.7" y="319.7" width="3.6" height="3.6" fill="#00ff00"/>
<rect x="375.2" y="313.8" width="3.6" height="3.6" fill="#808080"/>
<rect x="376.9" y="319.2" width="3.6" height="3.6" fill="#800000"/>
<rect x="385.0" y="309.4" width="3.6" height="3.6" fill="#0000ff"/>
<rect x="386.1" y="315.9" width="3.6" height="3.6" fill="#0000ff"/>
<rect x="382.2" y="319.5" width="3.6" height="3.6" fill="#00ff00"/>
<rect x="385.2" y="319.5" width="3.6" height="3.6" fill="#00ff00"/>
<rect x="388.2" y="319.5" width="3.6" height="3.6" fill="#00ff00"/>
<rect x="391.2" y="319.5" width="3.6" height="3.6" fill="#00ff00"/>
<rect x="394.2" y="319.5" width="3.6" height="3.6" fill="#00ff00"/>
<rect x="397.2" y="319.5" width="3.6" height="3.6" fill="#00ff00"/>
<rect x="400.2" y="319.5" width="3.6" height="3.6" fill="#00ff00"/>
<rect x="403.2" y="319.5" width="3.6" height="3.6" fill="#00ff00"/>
<rect x="406.1" y="314.5" width="3.6" height="3.6" fill="#808080"/>
<rect x="405.2" y="315.5" width="3.6" height="3.6" fill="#ff00ff"/>
<rect x="406.9" y="313.6" width="3.6" height="3.6" fill="#ffff00"/>
<rect x="408.0" y="307.0" width="3.6" height="3.6" fill="#0000ff"/>
<rect x="410.5" y="315.1" width="3.6" height="3.6" fill="#0000ff"/>
<rect x="409.2" y="319.5" width="3.6" height="3.6" fill="#00ff00"/>
<rect x="412.2" y="319.5" width="3.6" height="3.6" fill="#00ff00"/>
<rect x="415.9" y="315.5" width="3.6" height="3.6" fill="#ff0000"/>
<rect x="418.2" y="319.5" width="3.6" height="3.6" fill="#00ff00"/>
<rect x="419.2" y="318.9" width="3.6" height="3.6" fill="#0000ff"/>
<rect x="421.2" y="319.5" width="3.6" height="3.6" fill="#00ff00"/>
<rect x="424.2" y="319.5" width="3.6" height="3.6" fill="#00ff00"/>
<rect x="427.0" y="317.0" width="3.6" height="3.6" fill="#0000ff"/>
<rect x="429.2" y="319.5" width="3.6" height="3.6" fill="#00ff00"/>
<rect x="432.2" y="319.5" width="3.6" height="3.6" fill="#00ff00"/>
<rect x="434.3" y="317.0" width="3.6" height="3.6" fill="#0000ff"/>
<rect x="437.2" y="319.0" width="3.6" height="3.6" fill="#ff0000"/>
<rect x="438.2" y="319.5" width="3.6" height="3.6" fill="#00ff00"/>
<rect x="440.4" y="317.0" width="3.6" height="3.6" fill="#808080"/>
<rect x="443.6" y="312.6" width="3.6" height="3.6" fill="#808080"/>
<rect x="442.2" y="319.5" width="3.6" height="3.6" fill="#00ff00"/>
<rect x="445.2" y="319.5" width="3.6" height="3.6" fill="#00ff00"/>
<rect x="447.4" y="308.5" width="3.6" height="3.6" fill="#0000ff"/>
<rect x="448.7" y="319.5" width="3.6" height="3.6" fill="#00ff00"/>
<rect x="451.8" y="309.4" width="3.6" height="3.6" fill="#0000ff"/>
<rect x="453.3" y="312.6" width="3.6" height="3.6" fill="#808080"/>
<rect x="452.2" y="319.5" width="3.6" height="3.6" fill="#00ff00"/>
<rect x="455.8" y="317.0" width="3.6" height="3.6" fill="#0000ff"/>
<rect x="456.7" y="319.5" width="3.6" height="3.6" fill="#ff0000"/>
<rect x="458.7" y="319.5" width="3.6" height="3.6" fill="#00ff00"/>
<rect x="461.3" y="314.5" width="3.6" height="3.6" fill="#0000ff"/>
<rect x="463.7" y="317.5" width="3.6" height="3.6" fill="#ff0000"/>
<rect x="462.2" y="319.5" width="3.6" height="3.6" fill="#00ff00"/>
<rect x="465.2" y="319.5" width="3.6" height="3.6" fill="#00ff00"/>
<rect x="468.9" y="315.5" width="3.6" height="3.6" fill="#800000"/>
<rect x="468.2" y="314.0" width="3.6" height="3.6" fill="#0000ff"/>
<rect x="469.2" y="319.5" width="3.6" height="3.6" fill="#00ff00"/>
<rect x="471.8" y="315.5" width="3.6" height="3.6" fill="#0000ff"/>
<rect x="472.7" y="319.5" width="3.6" height="3.6" fill="#00ff00"/>
<rect x="475.8" y="311.1" width="3.6" height="3.6" fill="#0000ff"/>
<rect x="476.9" y="311.6" width="3.6" height="3.6" fill="#0000ff"/>
<rect x="481.7" y="313.6" width="3.6" height="3.6" fill="#ff0000"/>
<rect x="476.7" y="319.5" width="3.6" height="3.6" fill="#00ff00"/>
<rect x="479.7" y="319.5" width="3.6" height="3.6" fill="#00ff00"/>
<rect x="482.7" y="319.5" width="3.6" height="3.6" fill="#00ff00"/>
<rect x="485.7" y="319.5" width="3.6" height="3.6" fill="#00ff00"/>
<rect x="487.6" y="315.1" width="3.6" height="3.6" fill="#800000"/>
<rect x="488.7" y="319.5" width="3.6" height="3.6" fill="#00ff00"/>
<rect x="491.7" y="319.5" width="3.6" height="3.6" fill="#00ff00"/>
<rect x="494.9" y="315.9" width="3.6" height="3.6" fill="#ff00ff"/>
<rect x="496.9" y="315.5" width="3.6" height="3.6" fill="#ffff00"/>
<rect x="494.7" y="319.5" width="3.6" height="3.6" fill="#00ff00"/>
<rect x="497.7" y="319.5" width="3.6" height="3.6" fill="#00ff00"/>
<rect x="501.0" y="311.1" width="3.6" height="3.6" fill="#0000ff"/>
<rect x="501.2" y="319.5" width="3.6" height="3.6" fill="#00ff00"/>
<rect x="504.2" y="319.5" width="3.6" height="3.6" fill="#00ff00"/>
<rect x="507.2" y="319.5" width="3.6" height="3.6" fill="#00ff00"/>
<rect x="510.1" y="314.5" width="3.6" height="3.6" fill="#0000ff"/>
<rect x="510.2" y="319.5" width="3.6" height="3.6" fill="#00ff00"/>
<rect x="513.2" y="319.5" width="3.6" height="3.6" fill="#00ff00"/>
<rect x="516.8" y="316.7" width="3.6" height="3.6" fill="#0000ff"/>
<rect x="516.2" y="319.5" width="3.6" height="3.6" fill="#ff0000"/>
<rect x="519.2" y="319.5" width="3.6" height="3.6" fill="#00ff00"/>
<rect x="522.6" y="316.5" width="3.6" height="3.6" fill="#800000"/>
<rect x="523.2" y="318.5" width="3.6" height="3.6" fill="#808080"/>
<rect x="525.8" y="313.3" width="3.6" height="3.6" fill="#ff00ff"/>
<rect x="528.3" y="311.9" width="3.6" height="3.6" fill="#ffff00"/>
<rect x="526.2" y="319.5" width="3.6" height="3.6" fill="#00ff00"/>
<rect x="529.2" y="319.5" width="3.6" height="3.6" fill="#00ff00"/>
<rect x="530.5" y="316.2" width="3.6" height="3.6" fill="#808080"/>
<rect x="532.2" y="319.5" width="3.6" height="3.6" fill="#00ff00"/>
<rect x="535.2" y="319.0" width="3.6" height="3.6" fill="#808080"/>
<rect x="537.2" y="319.5" width="3.6" height="3.6" fill="#00ff00"/>
<rect x="540.0" y="316.2" width="3.6" height="3.6" fill="#00ff00"/>
<rect x="541.2" y="319.5" width="3.6" height="3.6" fill="#00ff00"/>
<rect x="544.2" y="319.5" width="3.6" height="3.6" fill="#00ff00"/>
<rect x="547.2" y="319.5" width="3.6" height="3.6" fill="#00ff00"/>
<rect x="550.2" y="319.5" width="3.6" height="3.6" fill="#00ff00"/>
<rect x="552.1" y="319.5" width="3.6" height="3.6" fill="#ff0000"/>
<rect x="555.0" y="318.9" width="3.6" height="3.6" fill="#0000ff"/>
<rect x="558.0" y="319.2" width="3.6" height="3.6" fill="#808080"/>
<rect x="560.9" y="317.7" width="3.6" height="3.6" fill="#ff0000"/>
<rect x="561.2" y="319.2" width="3.6" height="3.6" fill="#808080"/>
<rect x="564.8" y="319.2" width="3.6" height="3.6" fill="#808080"/>
<rect x="566.7" y="319.2" width="3.6" height="3.6" fill="#0000ff"/>
<rect x="569.6" y="318.9" width="3.6" height="3.6" fill="#00ff00"/>
<rect x="572.3" y="313.0" width="3.6" height="3.6" fill="#808080"/>
<rect x="572.6" y="315.1" width="3.6" height="3.6" fill="#0000ff"/>
<rect x="573.7" y="308.2" width="3.6" height="3.6" fill="#ff00ff"/>
<rect x="575.5" y="307.2" width="3.6" height="3.6" fill="#ffff00"/>
<rect x="575.7" y="310.5" width="3.6" height="3.6" fill="#00ffff"/>
<rect x="574.2" y="319.5" width="3.6" height="3.6" fill="#ff0000"/>
<rect x="577.0" y="307.3" width="3.6" height="3.6" fill="#ffff00"/>
<rect x="579.3" y="319.4" width="3.6" height="3.6" fill="#808080"/>
<rect x="584.0" y="319.4" width="3.6" height="3.6" fill="#ff0000"/>
<rect x="586.8" y="317.4" width="3.6" height="3.6" fill="#0000ff"/>
<rect x="587.9" y="319.8" width="3.6" height="3.6" fill="#0000ff"/>
<rect x="593.1" y="316.3" width="3.6" height="3.6" fill="#0000ff"/>
<rect x="593.4" y="319.0" width="3.6" height="3.6" fill="#808080"/>
<rect x="596.5" y="319.0" width="3.6" height="3.6" fill="#ff0000"/>
<rect x="597.0" y="318.2" width="3.6" height="3.6" fill="#800000"/>
<rect x="600.4" y="319.4" width="3.6" height="3.6" fill="#808080"/>
<rect x="602.8" y="317.9" width="3.6" height="3.6" fill="#0000ff"/>
<rect x="604.3" y="319.8" width="3.6" height="3.6" fill="#0000ff"/>
<rect x="608.2" y="319.8" width="3.6" height="3.6" fill="#808080"/>
<rect x="609.5" y="317.9" width="3.6" height="3.6" fill="#0000ff"/>
<rect x="610.9" y="319.8" width="3.6" height="3.6" fill="#ff00ff"/>
<rect x="614.5" y="319.4" width="3.6" height="3.6" fill="#ff0000"/>
<rect x="617.2" y="317.4" width="3.6" height="3.6" fill="#ff0000"/>
<rect x="620.7" y="319.0" width="3.6" height="3.6" fill="#800000"/>
<rect x="623.9" y="318.2" width="3.6" height="3.6" fill="#ff0000"/>
<rect x="623.1" y="320.5" width="3.6" height="3.6" fill="#00ff00"/>
<rect x="627.5" y="316.3" width="3.6" height="3.6" fill="#0000ff"/>
<rect x="629.0" y="320.5" width="3.6" height="3.6" fill="#00ff00"/>
<rect x="631.7" y="319.0" width="3.6" height="3.6" fill="#808080"/>
<rect x="635.6" y="319.0" width="3.6" height="3.6" fill="#0000ff"/>
<rect x="637.6" y="319.8" width="3.6" height="3.6" fill="#0000ff"/>
<rect x="640.7" y="319.0" width="3.6" height="3.6" fill="#808080"/>
<rect x="645.0" y="319.4" width="3.6" height="3.6" fill="#ff0000"/>
<rect x="648.4" y="319.4" width="3.6" height="3.6" fill="#ff0000"/>
<rect x="648.4" y="318.2" width="3.6" height="3.6" fill="#0000ff"/>
<rect x="650.4" y="319.0" width="3.6" height="3.6" fill="#ffff00"/>
<rect x="652.5" y="319.0" width="3.6" height="3.6" fill="#800000"/>
<rect x="653.5" y="320.5" width="3.6" height="3.6" fill="#00ff00"/>
<rect x="655.9" y="317.9" width="3.6" height="3.6" fill="#0000ff"/>
<rect x="658.7" y="319.4" width="3.6" height="3.6" fill="#0000ff"/>
<rect x="661.4" y="319.8" width="3.6" height="3.6" fill="#0000ff"/>
<rect x="664.2" y="319.0" width="3.6" height="3.6" fill="#808080"/>
<rect x="667.6" y="319.4" width="3.6" height="3.6" fill="#ff0000"/>
<rect x="671.0" y="319.4" width="3.6" height="3.6" fill="#808080"/>
<rect x="673.4" y="318.2" width="3.6" height="3.6" fill="#ff00ff"/>
<rect x="674.7" y="316.5" width="3.6" height="3.6" fill="#00ffff"/>
<rect x="677.0" y="319.4" width="3.6" height="3.6" fill="#ff0000"/>
<rect x="681.7" y="319.8" width="3.6" height="3.6" fill="#0000ff"/>
<rect x="283.7" y="320.1" width="3.6" height="3.6" fill="#00ff00"/>
<rect x="286.2" y="319.5" width="3.6" height="3.6" fill="#00ff00"/>
<rect x="303.7" y="320.1" width="3.6" height="3.6" fill="#00ff00"/>
<rect x="313.7" y="320.1" width="3.6" height="3.6" fill="#00ff00"/>
<rect x="326.2" y="319.5" width="3.6" height="3.6" fill="#00ff00"/>
<rect x="331.2" y="319.5" width="3.6" height="3.6" fill="#00ff00"/>
<rect x="338.7" y="320.1" width="3.6" height="3.6" fill="#00ff00"/>
<rect x="343.7" y="320.1" width="3.6" height="3.6" fill="#00ff00"/>
<rect x="366.2" y="319.5" width="3.6" height="3.6" fill="#00ff00"/>
<rect x="378.7" y="320.1" width="3.6" height="3.6" fill="#00ff00"/>
<rect x="405.7" y="320.1" width="3.6" height="3.6" fill="#00ff00"/>
<rect x="415.7" y="320.1" width="3.6" height="3.6" fill="#00ff00"/>
<rect x="571.7" y="320.1" width="3.6" height="3.6" fill="#ff0000"/>
<rect x="576.7" y="320.1" width="3.6" height="3.6" fill="#0000ff"/>
<rect x="581.7" y="320.1" width="3.6" height="3.6" fill="#800000"/>
<rect x="646.7" y="320.1" width="3.6" height="3.6" fill="#0000ff"/>
<rect x="669.2" y="319.5" width="3.6" height="3.6" fill="#800000"/>
<rect x="679.2" y="319.5" width="3.6" height="3.6" fill="#808080"/></g>
</g>
<text x="80.6" y="37.1" font-family="Liberation Sans, sans-serif" font-size="9.2" fill="#262626">JN-B4d</text>
<rect x="80.2" y="42.3" width="3.6" height="3.6" fill="#0000ff"/>
<text x="95" y="50.1" font-family="Liberation Sans, sans-serif" font-size="9.2" fill="#262626" textLength="96.4" lengthAdjust="spacingAndGlyphs">H4 Ca1 O6 S1; Gypsum</text>
<rect x="80.2" y="54.7" width="3.6" height="3.6" fill="#00ff00"/>
<text x="95" y="62.5" font-family="Liberation Sans, sans-serif" font-size="9.2" fill="#262626" textLength="82.3" lengthAdjust="spacingAndGlyphs">H2 Mg1 O2; Brucite</text>
<rect x="80.2" y="67.1" width="3.6" height="3.6" fill="#808080"/>
<text x="95" y="74.9" font-family="Liberation Sans, sans-serif" font-size="9.2" fill="#262626" textLength="100.4" lengthAdjust="spacingAndGlyphs">Fe1.889 O3.914 Zn0.945</text>
<rect x="80.2" y="79.4" width="3.6" height="3.6" fill="#800000"/>
<text x="95" y="87.2" font-family="Liberation Sans, sans-serif" font-size="9.2" fill="#262626" textLength="95.2" lengthAdjust="spacingAndGlyphs">H2 Ca1 O2; Portlandite</text>
<rect x="80.2" y="91.8" width="3.6" height="3.6" fill="#00ffff"/>
<text x="95" y="99.6" font-family="Liberation Sans, sans-serif" font-size="9.2" fill="#262626" textLength="97.7" lengthAdjust="spacingAndGlyphs">Fe2 O4 Zn1; Franklinite</text>
<rect x="80.2" y="104.2" width="3.6" height="3.6" fill="#ff00ff"/>
<text x="95" y="112.0" font-family="Liberation Sans, sans-serif" font-size="9.2" fill="#262626" textLength="147.6" lengthAdjust="spacingAndGlyphs">Fe1.71 Mg1.43 O4; Magnesioferrite</text>
<rect x="80.2" y="116.6" width="3.6" height="3.6" fill="#ffff00"/>
<text x="95" y="124.4" font-family="Liberation Sans, sans-serif" font-size="9.2" fill="#262626" textLength="44.3" lengthAdjust="spacingAndGlyphs">H1 Fe1 O2</text>
<rect x="80.2" y="129.0" width="3.6" height="3.6" fill="#ff0000"/>
<text x="95" y="136.8" font-family="Liberation Sans, sans-serif" font-size="9.2" fill="#262626" textLength="213.6" lengthAdjust="spacingAndGlyphs">Al1.3 Ca2 Mg0.35 O7 Si1.35; Akermanite-Gehlenite</text>
<rect x="80.2" y="141.3" width="3.6" height="3.6" fill="#0000ff"/>
<text x="95" y="149.1" font-family="Liberation Sans, sans-serif" font-size="9.2" fill="#262626" textLength="28.5" lengthAdjust="spacingAndGlyphs">Fe2 O3</text>
<rect x="80.2" y="153.7" width="3.6" height="3.6" fill="#00ff00"/>
<text x="95" y="161.5" font-family="Liberation Sans, sans-serif" font-size="9.2" fill="#262626" textLength="127.4" lengthAdjust="spacingAndGlyphs">H64 Al2 Ca6 O50 S3; Ettringite</text>
<rect x="80.2" y="166.1" width="3.6" height="3.6" fill="#808080"/>
<text x="95" y="173.9" font-family="Liberation Sans, sans-serif" font-size="9.2" fill="#262626" textLength="43.3" lengthAdjust="spacingAndGlyphs">C1 Ca1 O3</text>
<rect x="78" y="28.9" width="605" height="296.2" fill="none" stroke="#161616" stroke-width="1.9"/>
</g>
</svg>
</body></html>
